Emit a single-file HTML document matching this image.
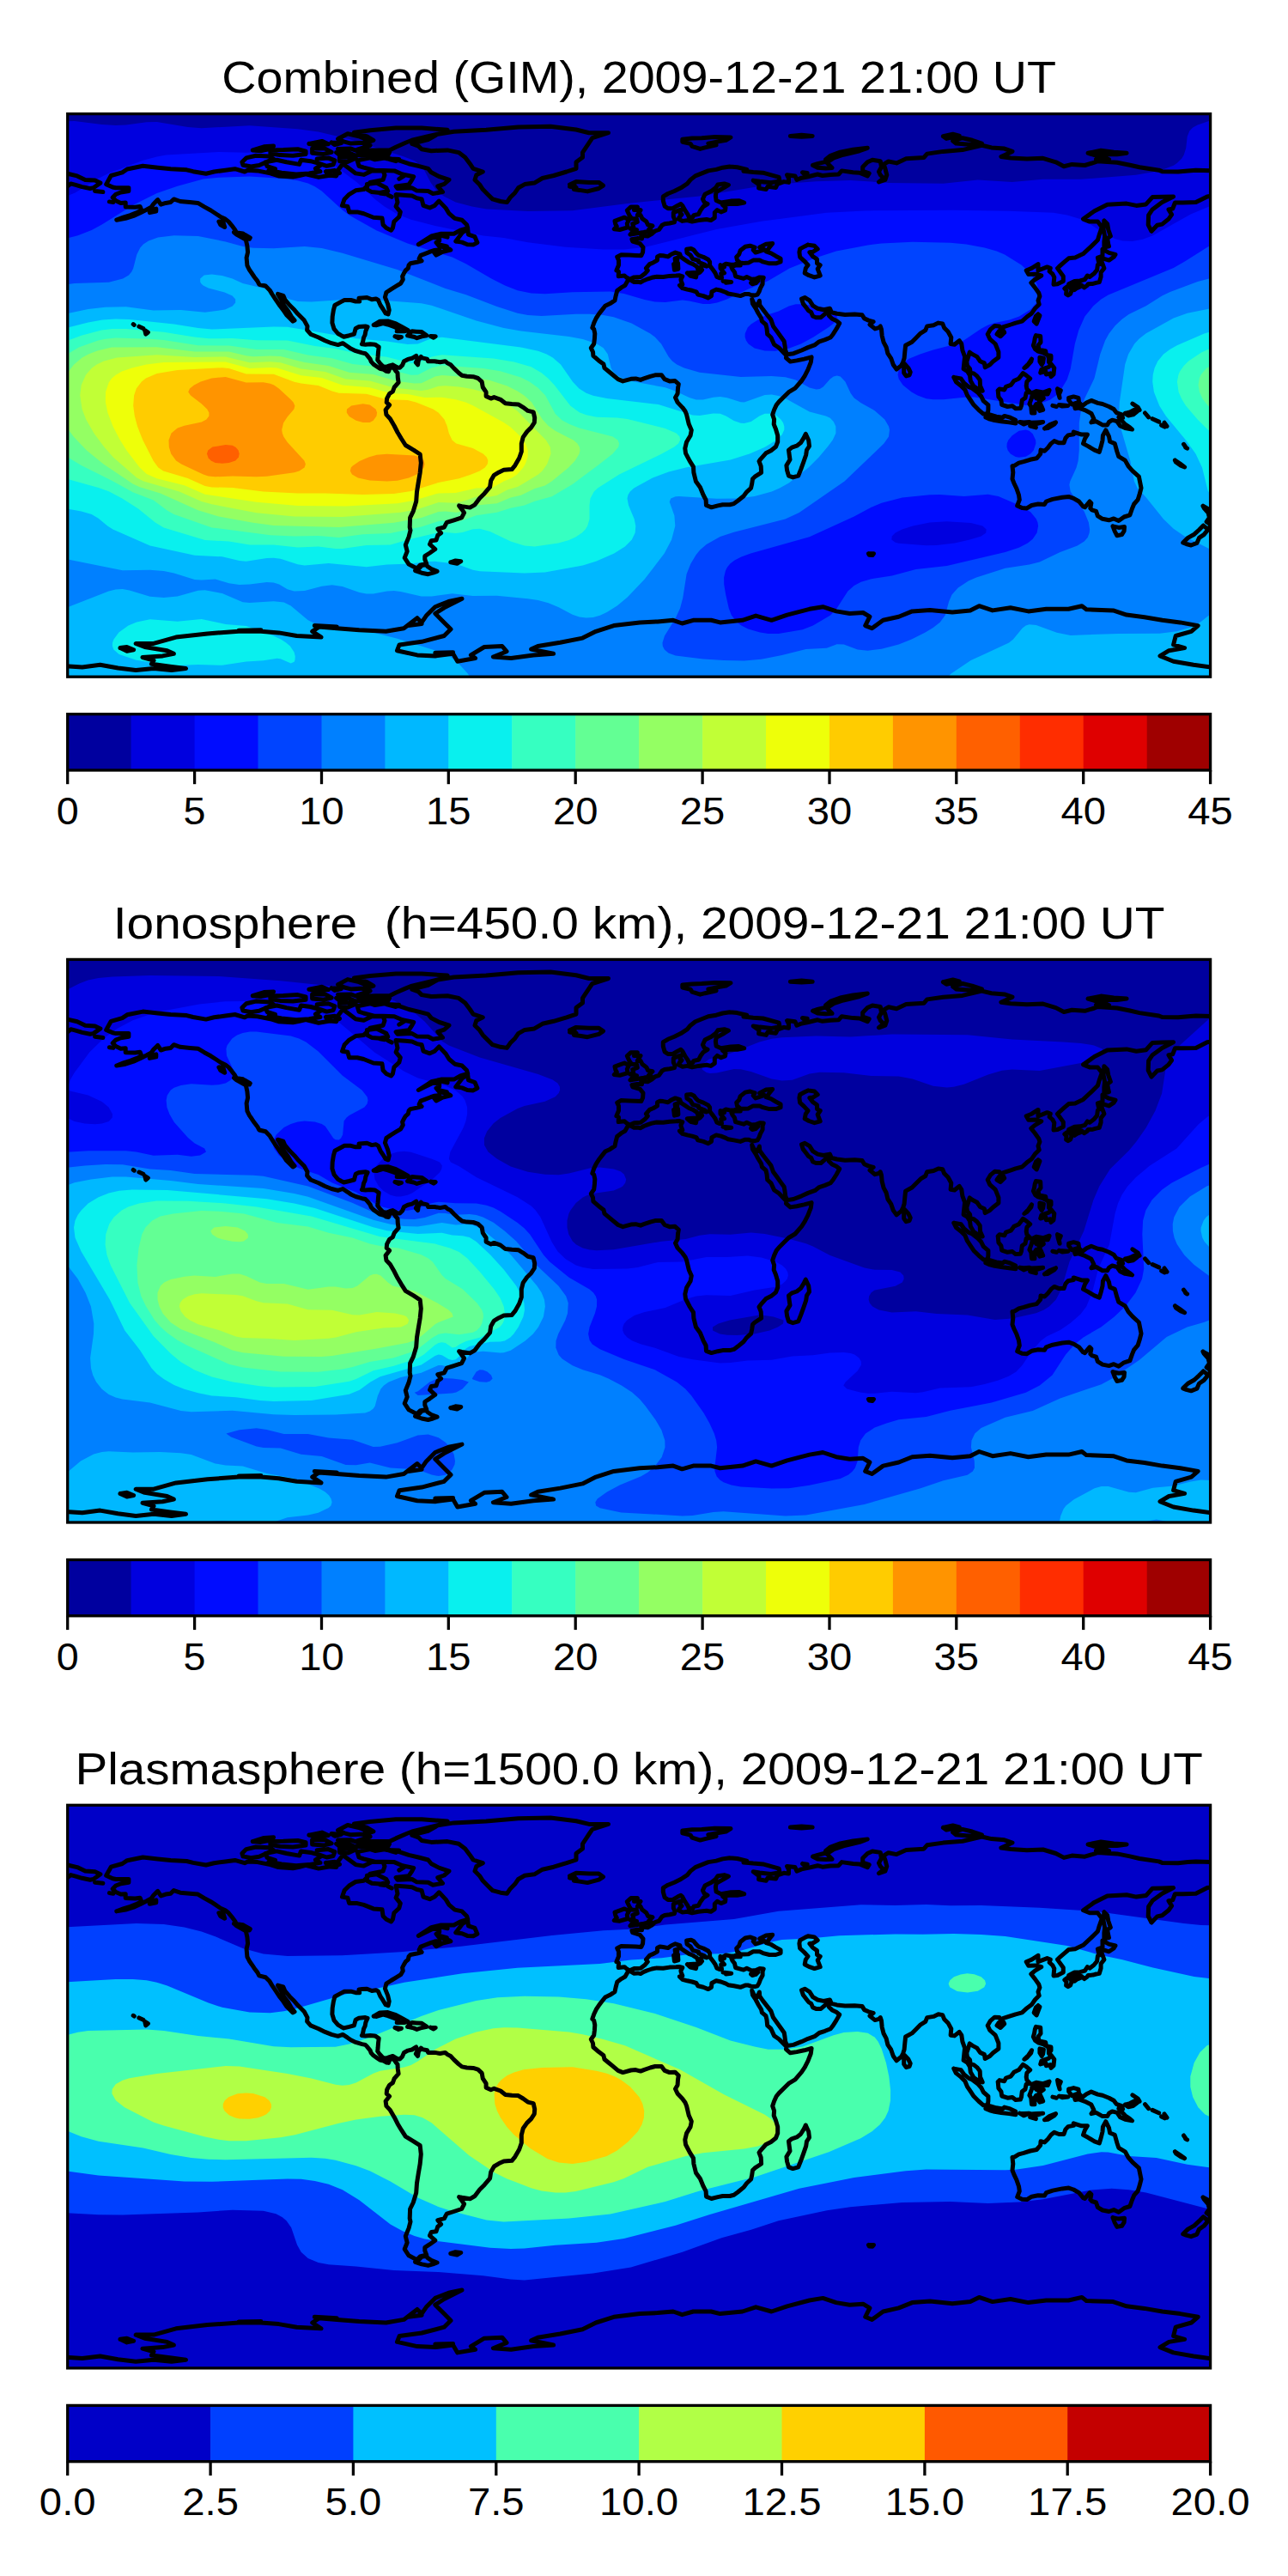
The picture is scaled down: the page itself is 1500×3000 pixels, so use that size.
<!DOCTYPE html>
<html lang="en"><head><meta charset="utf-8"><title>GIM / Ionosphere / Plasmasphere TEC maps</title>
<style>html,body{margin:0;padding:0;background:#fff}body{width:1500px;height:3000px;overflow:hidden;font-family:"Liberation Sans",sans-serif}svg{display:block}text{font-family:"Liberation Sans",sans-serif;fill:#000}</style></head><body>
<svg width="1500" height="3000" viewBox="0 0 1500 3000">
<rect width="1500" height="3000" fill="#fff"/>
<defs><clipPath id="mc"><rect x="0" y="0" width="1330.9" height="655.6"/></clipPath>
<path id="coast" d="M45 82L50.6 71.9L63.7 68.2L69.4 64.4L87.7 60.7L105 62.6L120 64.1L138.7 65.2L146.2 67.1L161.2 69.7L170.6 67.4L183.7 65.6L194.9 64.1L206.2 67.4L209.9 65.6L221.2 66.3L236.2 69.3L245.6 72.3L262.4 73.4L269.9 71.9L277.4 70.1L292.4 73.8L305.5 71.6L313 72.3L314.9 65.6L320.5 58.1L328 63.7L335.5 69.3L344.9 70.8L354.3 66.3L367.4 66.3L369.3 71.2L367.4 76.8L352.4 79.8L348.7 84.3L344.9 88L335.5 89.2L328 93.7L322.4 99.3L319.8 106.8L326.2 107.9L328 114.3L337.4 114.3L344.9 116.1L356.2 120.6L366.3 121.4L367.4 129.2L371.2 133L376.8 135.6L378.7 133L380.2 125.5L386.1 119.9L387.6 114.3L382.4 107.9L384.3 103L382.4 94L393.6 94.8L401.1 95.5L406.8 98.2L412.4 99.3L414.3 106.8L421.8 109.4L427.4 106.8L432.6 101.5L440.5 109.8L444.3 116.1L451 121.8L459.3 123.6L464.9 129.2L466 133L457.4 135.6L449.9 139.7L434.9 139.7L423.6 142.4L418 146.1L408.6 152.1L416.1 148.4L425.5 143.9L433 144.6L433 148L429.3 149.9L432.3 153.6L438.6 155.5L444.3 157.3L446.1 158.5L436.8 160.7L429.3 164.5L426.6 161.1L433 158.1L427.4 158.8L422.9 160.3L416.1 163L411.3 164.8L409.4 168.6L412.4 171.2L406.8 172.7L399.3 174.2L397.4 176.1L396.6 179.8L393.6 182.4L391.4 186.2L389.9 189.2L390.6 192.9L388 197.4L382.4 200.8L376.8 204.2L371.2 207.9L369.7 213.5L373 221.8L374.5 228.5L373.4 233.4L370.4 232.3L367.4 227.4L364.4 222.9L361.8 216.9L359.2 215.4L354.3 216.2L348.7 213.9L343 214.3L339.3 214.7L340 218.4L335.5 218.4L329.9 216.9L322.4 216.9L318.7 218.8L311.2 222.9L309.7 228.5L308.5 236L308.2 243.5L310.4 250.6L314.9 255.9L318.7 258.1L321.7 259.6L328 258.1L333.7 256.6L335.5 249.9L339.3 248L346.8 247.3L349.4 248L347.2 252.9L346.4 257.4L344.9 260.4L343.8 266L342.7 268.2L346.8 268.6L352.4 268.2L358 268.6L362.5 271.6L361.8 277.2L361.4 282.8L361 286.6L363.7 290.3L367.4 294.1L371.2 294.8L374.9 293.3L378.7 292.2L383.1 294.8L385 295.6L386.9 295.6L389.9 292.6L391.8 288.1L396.3 285.8L401.1 284.7L406 281.7L407.5 285.8L405.6 289.6L407.9 292.2L408.6 287.3L411.6 282.8L413.1 284.3L418.8 285.5L419.9 288.1L427.4 288.1L433.8 289.2L439.8 288.1L442.4 290.3L446.1 292.2L449.9 296.3L455.5 301.6L459.3 304.6L464.9 305.7L472.4 306.1L478 307.9L482.5 312.1L483.6 318.4L487.4 324.1L487.4 328.9L493 331.5L496.7 330L504.2 332.7L509.9 337.2L517.4 337.9L524.9 338.3L530.5 341.7L536.1 345.8L542.5 347.3L544 354L543.6 359.6L539.9 365.3L535 370.1L530.5 376.5L528.6 384L528.6 393.4L526 400.9L521.1 409.5L517.4 414L508 414.7L502.4 417.3L496.7 420.7L493 427.1L491.9 434.6L485.5 442.1L479.9 447.7L474.3 455.2L468.6 458.5L459.3 457L455.9 456.3L459.3 460.8L461.9 464.5L458.9 470.2L449.9 473.2L441.6 475.8L438.6 481.4L431.1 483.3L434.9 488.1L431.1 490.8L429.3 496.4L423.6 497.1L421.8 501.3L428.1 506.9L421.8 511.4L416.1 515.1L416.1 518.9L418 523.7L410.5 525.6L406.8 529.4L397.4 524.5L392.5 517L395.5 509.5L393.6 502L397.4 492.6L399.3 485.1L398.5 481.4L398.9 470.2L402.6 462.7L406 451.4L406.8 440.2L408.6 428.9L410.5 417.7L411.6 406.5L410.5 396.4L403 391.5L393.6 385.9L388.8 378.4L384.3 370.9L380.5 363.4L375.7 355.1L371.2 350.3L370.4 344.7L374.9 339L371.5 336L371.9 331.5L374.9 325.9L378.7 323.3L380.5 318.4L385.4 312.8L384.6 307.2L384.3 301.6L382.4 299.7L380.5 296.7L376.8 294.5L374.9 297.1L373.8 300.1L371.2 299.7L368.2 297.8L363.7 296.7L359.9 294.1L356.2 291.5L353.5 288.5L352.4 285.5L348.7 281L346.8 279.1L343 278.3L335.5 276.1L329.9 273.5L326.2 270.9L320.5 267.1L314.9 269L307.4 267.1L299.9 264.1L292.4 260.4L283.1 256.6L278.9 251.8L279.3 247.3L275.6 240.5L268.1 233L264.3 228.5L258.7 222.9L253.1 216.2L251.2 211.7L244.8 209.8L249.3 217.3L251.9 222.9L256.8 229.3L260.6 236L264.3 240.5L262.4 241.6L258.7 237.9L254.9 234.1L251.2 228.5L247.4 223.7L245.6 221L241.8 215.4L238.1 209.8L235.4 205.3L230.6 200.4L223.1 198.6L221.2 194.8L217.4 189.9L214.4 185.4L211.8 181.7L209.2 176.5L208.4 167.5L209.9 161.1L209.2 153.6L207.7 146.9L212.6 144.2L206.2 140.5L196.8 138.6L194.9 134.9L191.2 130L187.5 125.5L183.7 122.5L178.1 119.9L172.5 116.1L166.8 112.4L159.3 108.3L151.8 103.8L142.5 103L131.2 101.9L123.7 99.3L120 103L114.3 103.8L108.7 105.6L105 100L100.1 104.9L97.5 108.6L91.9 111.6L84.4 115.4L76.9 118.8L67.5 121.8L57 123.6L65.6 120.3L73.1 118L80.6 115L86.2 112.4L84.4 107.9L78.7 108.6L67.5 108.3L67.5 103.4L61.9 103.8L56.2 101.1L52.5 97.4L56.2 93.7L61.9 91.4L71.2 89.9L71.2 86.2L65.6 86.2L56.2 86.2L52.5 85.4L45 82M418 524.9L412.4 526L408.6 530.1L404.9 532L412.4 534.6L419.9 536.1L425.5 534.6L430.4 532.7L423.6 530.1L419.1 527.1L418 524.9M446.1 522.2L451.8 520.4L458.1 521.1L453.6 523.7L446.1 522.2M401.1 34.8L419.9 30L431.1 23.6L449.9 20.6L487.4 18.7L524.9 15.4L562.4 14.6L592.3 18.4L607.3 22.1L629.8 22.1L611.1 28.1L607.3 33.7L603.6 39.3L599.8 45L599.8 50.6L592.3 56.2L592.3 63.7L581.1 67.4L566.1 71.9L553 74.9L543.6 80.5L532.4 82L524.9 86.2L521.1 91.8L515.5 97.4L511.7 103L504.2 101.9L494.9 99.3L489.2 93.7L483.6 88L479.9 82.4L474.3 76.8L476.1 71.2L483.6 67.4L472.4 63.7L468.6 58.1L463 50.6L455.5 45L442.4 42.3L423.6 43.1L412.4 41.2L408.6 37.5L401.1 34.8M584.8 82.4L592.3 79L607.3 79.8L618.6 79.8L623.8 83.5L618.6 86.9L605.5 90.3L596.1 88.8L589.7 88L592.3 85.8L584.8 84.7L590.5 83.2L584.8 82.4M373 51.7L386.1 54.3L397.4 58.1L408.6 60.7L419.9 63.7L423.6 68.2L433 73.1L444.3 76.8L438.6 81.7L431.1 84.3L436.8 91L425.5 92.9L419.9 89.9L406.8 89.5L401.1 86.2L384.3 86.9L382.4 84.3L397.4 82.4L401.1 76.8L403 73.1L389.9 70.4L380.5 66.3L367.4 65.9L358 65.9L344.9 62.6L339.3 60.7L337.4 54.3L352.4 51.3L358 53.2L367.4 51.7L373 51.7M234.3 65.9L249.3 68.6L266.2 70.4L281.2 69.3L294.3 67.1L288.7 63.7L296.2 58.8L283.1 55.1L271.8 53.6L269.9 58.8L254.9 56.2L243.7 53.6L230.6 56.2L232.4 61.1L241.8 64.1L234.3 65.9M204.3 59.6L213.7 61.4L223.1 59.9L232.4 55.8L239.9 52.4L234.3 49.5L219.3 48.7L208.1 51.3L203.2 56.2L204.3 59.6M337.4 41.6L352.4 42.3L374.9 42.3L382.4 38.6L393.6 33.7L401.1 30.7L419.9 26.2L434.9 22.5L442.4 18.7L412.4 16.5L382.4 16.5L352.4 19.1L333.7 21.7L348.7 26.2L356.2 30.7L344.9 34.5L352.4 36.7L337.4 41.6M314.9 40.8L329.9 40.5L341.2 44.6L356.2 44.2L374.9 45L373 48.3L356.2 48.7L333.7 48L326.2 44.6L314.9 40.8M314.9 29.2L326.2 23.2L339.3 26.2L348.7 30L344.9 33.7L329.9 34.5L322.4 32.6L314.9 29.2M236.2 42.3L251.2 42L268.1 41.2L277.4 43.5L277.4 46.8L262.4 48.7L247.4 48L236.2 46.1L236.2 42.3M290.5 52.4L303.7 51.3L311.2 54.3L309.3 59.2L301.8 60.7L290.5 56.9L290.5 52.4M316.8 50.6L326.2 50.2L335.5 51.7L326.2 55.8L316.8 55.1L316.8 50.6M284.9 40.5L299.9 40.5L307.4 44.6L298 46.8L284.9 45.7L284.9 40.5M348.7 82L359.9 80.5L371.2 86.2L373 89.9L363.7 91.8L354.3 91L348.7 88L348.7 82M300.7 67.1L311.2 65.9L316.8 68.9L309.3 71.6L302.5 69.7L300.7 67.1M452.1 148.4L460 137.9L466 134.5L466.8 140.5L474.3 143.1L477.2 149.9L472.4 152.5L465.6 152.1L459.3 149.5L452.1 148.4M193.8 137.9L204.3 139.4L211.8 145.7L206.2 145.7L196.8 140.5L193.8 137.9M176.2 125.5L181.1 125.5L183 131.9L178.1 129.2L176.2 125.5M95.6 112.4L103.1 110.5L103.1 113.5L95.6 115L95.6 112.4M356.5 245.8L363.7 241.6L373 241.3L382.4 244.3L389.9 248.4L396.6 252.1L391.8 253.2L383.5 253.2L385.4 250.6L380.5 248L373 245.4L367.4 243.9L359.9 246.1L356.5 245.8M395.9 258.1L401.1 253.2L406 253.6L412.4 254L418.4 258.1L412.4 259.2L406.8 261.1L403 259.6L395.9 258.1M381.3 259.2L388.8 260L385.4 261.1L381.3 259.2M422.9 258.9L428.5 259.2L426.3 260.7L422.9 258.9M90 252.1L93.7 254.4L91.1 256.6L90 252.1M83.2 247.6L88.1 249.9M76.5 245L77.6 245.8M31.9 89.9L41.2 91M48.7 102.3L53.2 103M215.6 42.3L228.7 38.2L239.9 37.5L236.2 40.8L224.9 43.1L215.6 42.3M281.2 34.8L296.2 31.8L303.7 35.2L288.7 36.7L281.2 34.8M307.4 33.3L318.7 34.1L311.2 36L307.4 33.3M313 45L324.3 46.1L316.8 48L313 45M371.2 52.1L386.1 52.8L382.4 55.1L371.2 52.1M373 94.4L377.5 96.7M363.7 92.5L369.3 93.3M386.1 75.7L391.8 72.3M433 141.2L442.4 143.5M434.1 152.5L441.6 154.3M841.7 25.8L854.8 24.7L867.5 25.8L854.8 26.6L841.7 25.8M855.9 68.2L861.5 68.9L858.5 70.4L855.9 68.2M771.2 61.4L779.8 62.2L791 64.8L787.3 66.7L798.5 67.8L809.8 68.6L828.5 73.8L829.3 78.3L819.2 80.2L806 78.7L798.5 77.5L805.3 82.4L804.9 86.5L813.5 88L815.4 84.7L824.8 85.8L826.7 81.7L834.2 79L839.8 79.8L839.8 74.9L837.9 71.2L847.3 72.3L849.2 76.8L854.8 74.6L862.3 73.1L873.5 70.4L879.1 71.9L888.5 70.8L897.9 70.4L901.6 66.3L914.8 68.2L922.3 68.6L931.6 72.3L933.5 69.3L926 66.7L926 61.8L931.6 56.2L937.3 53.6L946.6 55.1L947.8 61.8L944.8 67.4L946.6 71.2L950.4 74.9L944.8 79.4L952.2 76.8L954.1 71.2L952.2 63.7L950.4 58.8L956 55.4L965.4 57.3L976.6 52.1L997.2 50.9L1001 46.5L1019.7 43.8L1042.2 42L1064.7 36.7L1076 39.3L1091 40.5L1100.3 43.8L1087.2 49.8L1098.5 51.3L1117.2 52.4L1136 51.7L1150.9 56.2L1160.3 61.1L1169.7 58.8L1184.7 59.9L1195.9 56.6L1199.7 55.1L1222.2 56.6L1237.2 59.6L1248.4 62.2L1270.9 65.6L1274.7 67.1L1293.4 67.4L1304.7 66.3L1314 65.6L1334.6 66.3L1349.6 69.7L1349.6 84.3L1344 86.2L1340.3 85.4L1345.9 91.8L1347 93.7L1327.2 96.3L1314 103L1299 103.4L1289.7 103.4L1287 110.5L1282.2 111.3L1285.9 117.3L1282.2 122.5L1274.7 128.5L1269 129.6L1262.3 136.7L1258.5 129.2L1258.9 118L1263.4 111.3L1274.7 103L1287.8 96.3L1274.7 96.7L1263.4 97L1255.9 105.3L1244.7 106.8L1233.4 104.5L1210.9 105.6L1195.9 113.1L1182.8 122.5L1190.3 125.5L1199.7 125.5L1204.6 131.9L1201.6 140.5L1199.7 146.9L1192.2 154.3L1182.8 163L1173.4 167.5L1165.9 168.2L1161.1 172.3L1154.7 177.9L1152.8 179.8L1159.6 189.2L1159.6 194.8L1152.8 198.2L1148.3 198.6L1149.1 190.3L1147.2 186.6L1143.4 183.2L1144.6 179.8L1140.8 178.3L1130.3 182.4L1130.3 175L1122.8 179.8L1116.5 182.4L1119.1 186.9L1127.7 186.6L1134.1 188.4L1126.6 192.9L1122.1 196.7L1126.6 202.3L1131.1 208.7L1132.2 212.4L1130.3 217.3L1131.5 221.8L1126.6 226.7L1122.8 232.3L1117.2 236.4L1111.6 241.6L1104.1 243.5L1098.5 245.4L1089.1 248.4L1087.2 251.8L1085.3 247.3L1079.7 246.9L1074.8 251L1071.5 256.6L1074.1 262.2L1080.5 267.9L1084.2 277.2L1084.2 283.6L1077.8 288.5L1074.1 292.2L1068.5 295.2L1067.7 290.3L1062.8 288.1L1059.1 282.8L1053.5 279.8L1050.5 277.6L1049 282.8L1047.1 288.5L1047.8 293.3L1050.8 296.7L1051.6 301.6L1055.3 302.3L1059.1 305.3L1062.5 309.8L1062.8 316.6L1065.5 322.6L1062.1 321.8L1055.3 317.3L1051.6 310.9L1050.8 304.6L1047.8 299.7L1043.4 297.1L1044.1 290.3L1044.9 282.8L1042.2 275.4L1041.1 267.9L1038.5 264.1L1032.9 268.6L1028.4 267.9L1029.1 260.4L1025.4 253.6L1020.9 249.1L1019 244.3L1014.1 243.5L1008.5 246.1L1001 247.3L999.1 252.1L993.5 255.5L987.9 261.1L983.4 265.6L975.9 269.7L975.1 277.2L974.4 284.7L972.9 289.2L971 293L967.2 296L965.4 297.5L961.6 292.2L959 284.7L955.2 279.1L953.4 271.6L950.4 266L948.5 258.5L947.8 251L946.6 247.3L944.8 249.1L940.3 250.3L934.3 245.4L938.4 242L932.8 240.5L927.9 238.3L925.3 234.1L916.6 233.4L905.4 233.8L896 232.6L889.6 231.1L887.8 226.7L880.3 228.1L873.5 226.7L867.9 223.3L864.1 217.3L858.5 213.9L854.8 215.4L856.6 221L860.4 225.9L863 229.3L866 231.1L867.9 235.6L871.6 237.1L877.3 237.1L882.9 232.3L885.9 229.6L886.6 234.9L890.4 238.6L895.3 240.9L899 243.9L895.3 250.6L891.5 256.6L888.5 260.4L882.1 263L875.4 265.2L870.5 269L862.3 272L854.8 275.4L845.4 279.1L837.9 280.2L836 275.4L835.3 269.7L834.5 264.9L830.4 259.2L825.9 252.9L821.8 247.3L819.2 239.8L814.7 234.1L809.8 227.8L806 222.5L805.7 217.7L803.4 223.3L799.3 220.7L797 215.8L797.8 221L801.5 226.7L804.2 231.9L807.9 237.9L808.7 241.6L813.2 245.4L814.3 249.9L815 256.6L819.2 260.4L822.9 268.6L828.5 272.4L834.2 278.3L837.2 281.3L836.8 284.3L841.7 288.5L849.2 287.3L857.8 285.5L866.4 283.2L865.6 289.2L862.3 297.8L858.5 305.3L854.8 310.9L847.3 319.6L839.8 324.1L834.2 329.7L828.5 335.3L825.5 339L822.9 344.7L821 350.3L822.9 355.9L822.5 361.5L824.8 367.1L827 374.6L827 382.1L824.8 387.7L819.2 392.2L813.2 395.2L807.2 402L805.3 404.6L807.5 410.2L807.9 417.7L800.4 422.6L797.8 425.2L797 430.8L795.9 435.7L791 440.2L787.3 445.1L780.5 450.7L776 454L771.2 455.2L762.9 455.2L757.3 456.3L749.8 458.2L743.8 455.9L743.4 449.6L740.4 443.9L736.7 434.9L731.8 428.2L729.2 417.7L728.8 411L724.7 404.6L719.8 395.2L719.1 389.6L720.9 382.1L725.4 374.6L726.6 368.3L723.6 361.5L720.9 350.3L719.4 346.5L716.1 342L710.4 336L707.8 330.4L710.4 325.9L710.8 319.6L711.6 314.7L707.4 310.9L701.1 311.3L695.4 309.1L691.7 304.2L684.2 304.2L678.6 305.7L671.1 308.3L667.3 309.8L661.7 308.3L656.1 308.7L646.7 311.3L641.1 309.1L634.3 303.4L629.8 299.7L625.3 296L624.2 291.5L618.6 287.3L612.2 281.7L611.8 277.2L609.6 272.7L613 267.9L613.7 262.2L614.1 255.9L613 250.6L611.1 249.1L613 243.5L615.6 237.9L619.3 232.3L622.3 228.5L626.1 223.7L631.7 221L637.3 217.3L638.5 211.7L640 206L644.8 202.3L649.3 199.7L652.7 193.7L655 193.3L659.8 195.9L664 195.6L667.3 196.3L671.1 194.1L675.9 192.2L680.4 190.7L686.1 189.6L693.6 189.9L701.1 188.8L708.6 188.4L712.3 188.1L716.1 189.2L714.2 192.9L714.6 194.8L716.1 198.6L712.7 199.7L716.1 203L721.7 204.5L727.3 205.7L732.2 207.2L734.1 210.5L740.4 212L746.1 214.3L749.8 212L750.2 207.2L755.4 204.5L761 205.7L766.7 207.9L769.3 209.4L776 210.5L783.5 212L789.2 209.8L792.9 209.8L795.9 210.9L800.4 211.3L803.4 210.5L805.3 207.2L806.8 203L809.4 198.2L809.4 193.7L810.5 190.7L806 190.3L801.5 192.2L796.7 192.6L791 189.9L787.3 191.8L781.7 190.3L777.9 189.2L776.8 184.3L774.2 180.9L773 177.9L777.9 176.5L783.5 176.5L783.5 173.8L779.8 174.2L776 175.7L772.3 175.7L766.7 174.6L762.9 176.8L764.8 178.3L760.3 176.1L760.3 179.8L761.8 181.7L764.8 185.4L761 185.8L761.8 191.1L759.2 191.1L756.2 189.9L754.3 185.4L751.7 181.7L747.9 176.8L747.9 172.3L746.1 169.7L740.4 166.7L734.8 164.8L731.8 161.8L729.2 158.5L726.2 157L720.9 157.7L721.3 161.8L725.4 164.5L728.1 169L734.8 170.8L734.8 172.7L742.3 175.7L744.2 177.6L738.6 176.1L737.1 179.4L738.9 181.7L736.7 184.3L733.7 185.8L734.8 182.8L732.9 177.9L728.4 175L723.6 173.1L717.9 169.3L714.2 166.7L713.1 163.3L707.8 161.5L702.9 163.7L699.2 166.3L693.6 165.2L689.8 164.8L686.8 166.3L686.8 170.5L682.3 173.1L677.8 175L673.7 179.8L675.6 182.4L672.2 186.2L667.3 189.9L659.8 190.3L654.6 192.6L651.2 190.7L648.6 188.4L641.5 189.2L641.8 183.6L639.2 182.4L641.8 176.1L641.8 170.5L640 166.7L644.8 164.1L654.2 164.5L661.7 164.8L668.1 165.2L669.9 161.1L670.3 155.5L666.6 151L658 148.4L657.2 146.1L663.6 145L668.8 145.4L668.1 141.6L675.6 142.4L680.4 139.7L684.2 136.4L688.7 134.9L692.4 129.6L695.4 128.1L701.1 127.4L706.7 126.2L707.4 123.6L705.6 119.9L705.6 115L711.6 112.4L714.6 111.6L713.4 116.1L715.3 117.3L712.3 120.6L711.6 122.5L716.1 124.8L721.7 124L727.3 125.5L734.8 124L744.2 122.9L749.1 124L753.6 121L753.6 115L756.6 112L761 114.3L765.9 112.4L766.3 109L762.9 106L770.4 104.9L779.8 104.9L788 103.4L781.7 101.1L772.3 101.5L761 103.4L755.4 100.8L754.7 95.5L755.4 91L764.8 85.8L769.7 82.8L764.8 81.3L757.3 82.4L754.7 86.2L749.8 89.9L742.3 93.7L739.7 99.3L741.6 103L745.3 104.9L740.4 107.9L737.1 112.4L734.8 116.9L729.2 118L728.1 120.3L723.6 120.3L722.4 117.3L719.1 112.4L716.1 106.8L714.2 104.9L710.4 106.8L704.8 110.1L699.2 110.1L695.4 107.5L693.6 101.1L693.6 96.3L699.2 92.9L706.7 89.9L714.2 86.2L721.7 81.3L725.4 76.8L731.1 72.3L738.6 69.3L746.1 66.3L755.4 64.8L762.9 62.6L771.2 61.4M0 69.7L11.2 72.3L20.6 76.8L31.9 77.5L38.2 80.5L30 86.2L26.2 86.9L16.9 85L9.4 82.8L3.7 81.3L0 84.3M783.5 173.5L779.8 170.5L779 166.7L782 163.7L783.5 159.2L789.2 154.7L794.8 153.6L800.4 155.5L798.5 158.5L801.2 161.5L806 160L811.7 158.1L806 155.5L813.5 151.7L821 151L817.3 155.5L815.4 158.5L813.5 160.3L819.2 162.2L824.8 165.6L830.4 168.6L830.4 172.3L824.8 174.2L817.3 174.2L809.8 172.3L806 170.5L798.5 170.5L792.9 173.5L787.3 173.8L783.5 173.5M862.3 152.5L869.8 153.6L873.5 157.3L867.9 160.7L864.1 161.1L867.9 166L872.8 169.3L872.8 174.2L876.5 176.1L873.5 180.6L876.5 188.4L869.8 190.3L863.4 188.1L858.5 185.4L859.6 179.8L862.3 176.1L857.8 171.2L852.9 166.7L852.2 161.1L852.9 157.3L858.5 154.3L862.3 152.5M655.3 140.5L661.7 139.4L671.1 137.9L679.7 136L676.7 134.9L681.2 130.4L675.9 129.2L674.1 125.5L669.2 121.8L667.3 118L663.6 118L667.3 112L659.8 112L663.6 108.3L656.1 108.3L651.6 112.4L654.2 118L656.8 121.8L662.8 122.1L663.6 125.9L658 128.1L659.1 131.9L655.3 133.7L662.8 135.2L658.7 136.4L655.3 140.5M652.3 132.2L651.6 127.7L653.8 123.3L648.6 120.6L643.3 122.5L637.3 124.8L638.1 128.5L639.6 131.1L636.6 134.1L643 134.9L652.3 132.2M716.1 29.6L727.3 28.5L738.6 28.1L753.6 27L772.3 27.3L766.7 30.7L753.6 33L746.1 34.5L755.4 36.3L742.3 39.3L736.7 40.8L727.3 37.8L725.4 34.8L716.1 32.6L716.1 29.6M867.9 59.9L873.5 62.6L882.9 63.3L890.4 62.9L884.8 57.3L882.9 53.2L888.5 48.7L899.8 44.6L914.8 41.6L931.6 39.7L922.3 43.1L903.5 47.6L892.3 51.3L886.6 55.1L881 56.2L873.5 58.1L867.9 59.9M1031 31.5L1042.2 28.1L1053.5 30.7L1064.7 34.5L1049.7 35.6L1034.7 34.5L1031 31.5M1019.7 26.2L1031 23.6L1038.5 25.5L1023.5 28.8L1019.7 26.2M1188.4 45.7L1203.4 42.7L1218.4 44.6L1233.4 45.7L1222.2 47.2L1207.2 47.2L1195.9 48L1188.4 45.7M1197.8 52.8L1209.1 51.3L1212.8 53.2L1203.4 54.7L1197.8 52.8M1344 61.1L1349.6 59.9M1207.2 124.4L1210.9 128.1L1212.1 134.9L1214.7 142.4L1210.9 145L1212.1 151.7L1212.8 154.3L1207.2 155.5L1207.2 148.7L1207.9 142.4L1206.4 134.9L1207.2 124.4M1205.3 157.7L1212.8 161.8L1220.3 163.7L1218.4 166.7L1212.8 170.5L1205.3 168.2L1200.8 172.3L1199.7 167.5L1205.3 165.6L1205.3 157.7M1204.6 172.7L1207.2 179.8L1203.4 184.7L1203.4 189.9L1201.6 195.9L1197.8 196.7L1194.1 197.8L1188.4 198.2L1187.7 199.7L1183.9 202.3L1180.9 199.3L1175.3 199.3L1170.8 200.8L1165.9 200.4L1165.9 198.2L1172.7 194.8L1179.1 194.4L1184.7 192.9L1187.7 188.4L1190.3 189.9L1195.2 186.2L1198.9 181.7L1199.7 175.7L1204.6 172.7M1165.9 200.8L1169.7 204.9L1167.8 209.8L1165.2 211.3L1162.9 209.8L1163.3 205.7L1161.1 203.4L1164.1 201.2L1165.9 200.8M1171.6 200.4L1179.1 199.3L1179.8 201.2L1175.3 203L1172.7 204.9L1171.6 200.4M1130.3 233.4L1132.2 234.9L1128.5 244.6L1125.5 241.6L1127.7 235.6L1130.3 233.4M1090.2 252.9L1091 254.7L1086.5 259.2L1082.3 256.6L1084.6 253.2L1090.2 252.9M1127.7 258.1L1133 258.9L1133.3 266L1130.3 269.7L1131.5 274.6L1139 276.1L1139.7 280.2L1136 278.3L1130.3 276.5L1127 274.2L1124.7 269.7L1125.8 266L1126.6 261.1L1127.7 258.1M1145.3 291.1L1149.1 296L1148.3 303.4L1145.3 306.1L1144.6 302.3L1139.7 303.4L1139 299.7L1133 301.6L1134.1 297.8L1139 296L1142.7 294.8L1145.3 291.1M1141.6 281L1145.3 281.7L1145.3 285.8L1142.7 289.2L1142.7 284.7L1141.6 281M1132.2 283.6L1136.7 284.7L1136 289.6L1134.5 292.2L1132.2 288.5L1132.2 283.6M1122.8 285.5L1119.1 291.1L1114.2 296L1117.2 294.1L1122.1 288.5L1122.8 285.5M1083.5 322.2L1085.3 320.3L1091 321.4L1092.8 317.7L1098.5 315.8L1102.2 310.9L1107.8 308.3L1112.7 302L1116.1 304.2L1121 308.3L1117.2 311.7L1116.5 316.6L1117.2 320.3L1121 324.1L1116.5 324.8L1115.3 330.8L1111.6 333.4L1110.8 339.8L1109.7 342.8L1104.1 343.2L1100.3 340.2L1094.7 340.9L1088 338.7L1087.2 333.4L1084.2 329.7L1083.5 322.2M1032.1 306.8L1040.4 308.3L1044.1 313.6L1049.7 318.1L1053.5 319.6L1060.2 324.8L1064 328.9L1066.6 334.2L1072.2 339L1072.2 344.7L1071.5 349.5L1066.6 349.5L1061 344.7L1055.3 339L1051.6 333.4L1047.8 327.8L1045.2 321.4L1040.4 316.6L1034.7 312.1L1032.1 306.8M1069.2 353.3L1074.1 350.3L1081.6 352.5L1089.1 353.6L1091 351.8L1097.7 353.6L1104.1 356.6L1104.1 360.4L1096.6 359.3L1087.2 358.1L1079.7 357L1074.1 355.5L1069.2 353.3M1124 324.8L1128.1 322.9L1136 324.4L1143.4 321.8L1141.6 326.3L1134.1 326.3L1125.5 327.8L1128.5 331.5L1136.7 331.2L1131.5 334.9L1134.1 340.2L1136 344.7L1132.2 345.8L1130.3 342.8L1128.1 337.9L1126.2 340.9L1126.2 348.4L1122.8 348.4L1122.1 340.9L1120.2 337.9L1122.8 330.8L1124 324.8M1152.8 320.3L1156.6 322.2L1154.7 326.7L1155.4 330.8L1153.6 324.8L1152.8 320.3M1137.8 366.4L1143.4 362.3L1150.9 359.3L1149.1 361.5L1141.6 366L1137.8 366.4M1121 359.6L1128.5 359.3L1136 358.9L1128.5 361.1L1121 359.6M1109 358.9L1113.5 359.3L1120.2 358.9L1113.5 361.5L1109 358.9M1121 363.4L1127.7 365.3M1154.7 339L1165.2 339.8L1158.4 340.5L1154.7 339M1147.2 339.8L1151.7 340.9M1165.9 330.8L1171.6 329.3L1177.2 330.8L1177.9 336L1181.7 340.2L1186.6 336.4L1192.2 333.8L1199.7 336.8L1205.3 337.9L1212.8 340.9L1218.4 343.9L1221.4 348L1227.8 350.3L1228.9 354L1224.1 353.3L1231.6 361.5L1237.2 365.3L1239.8 367.5L1231.6 366L1225.9 363.4L1222.2 358.1L1216.6 356.6L1212.8 358.9L1210.9 362.3L1205.3 362.3L1197.8 358.1L1192.2 359.3L1195.2 355.1L1192.2 348.8L1184.7 345L1177.2 342.4L1173.4 343.2L1172.7 340.2L1177.2 338.3L1175.3 336.4L1169.7 338.3L1165.9 333.4L1165.9 330.8M1231.6 348.8L1237.2 347.3L1244.7 343.5L1245.8 346.5L1240.9 350.3L1235.3 351.4L1231.6 348.8M1240.2 337.5L1246.5 341.7L1248.4 345M1254.8 348.4L1258.9 353.3M1263.4 355.1L1270.9 358.5M1273.9 362.6L1277.7 364.5M1277.3 359.6L1280.3 363.8M1299.8 384.7L1301.7 387.4M1302 388.5L1303.9 389.6M1289.7 403.5L1295.3 407.2L1300.9 411.3L1296.4 409.5L1290.8 405.7L1289.7 403.5M1339.5 393.4L1344 393L1344 396L1339.9 395.6L1339.5 393.4M974.7 291.1L979.2 296L981.5 300.8L980.4 304.2L976.6 305.3L974 301.6L974 296L974.7 291.1M859.6 372.8L863 380.2L863.8 387L860.8 391.5L860 397.1L857.4 404.6L854 414L851 421.5L844.7 423.3L839.8 421.5L837.9 415.1L837.2 409.5L841.3 402.7L840.5 397.1L839.8 391.5L843.5 388.5L849.2 386.6L853.7 383.2L857.4 377.3L859.6 372.8M721.7 185.4L732.9 184.7L731.8 190.3L725.4 188.8L721.7 185.4M705.9 175L710.8 173.8L711.2 180.6L706.7 181.7L705.9 175M707.4 168.6L710.4 167.5L709.7 172.3L707.8 172L707.4 168.6M763.3 194.8L773 195.9L766.7 196.7M795.9 196.7L804.2 194.4L801.5 197.1L797.4 198.2L795.9 196.7M932.8 512.1L938.8 512.1L937.3 514L933.5 513.6L932.8 512.1M1100.3 410.2L1103 409.5L1107.8 406.5L1113.5 405L1121 402.7L1128.5 401.2L1133 396L1133.3 391.5L1137.8 392.6L1141.6 388.9L1145.3 384L1149.1 381L1154.7 383.2L1160.3 383.2L1162.2 377.6L1165.2 374.3L1171.6 373.1L1171.6 370.5L1180.9 373.5L1187.7 373.5L1184.7 378.4L1182.8 384L1188.4 387L1195.9 391.5L1201.6 393.7L1203.4 387.7L1205.3 380.2L1205.7 374.6L1209.1 368.3L1212.8 375.8L1213.9 381.7L1219.6 384L1222.2 393.4L1224.1 399L1231.6 403.5L1235.3 410.2L1240.2 415.8L1247.7 422.6L1249.2 430.1L1250.3 435.7L1248.4 443.2L1246.5 449.2L1242 454.4L1239.8 459.7L1237.2 467.2L1230.4 469.4L1224.1 473.9L1218.4 471.3L1212.8 473.2L1205.3 471.7L1199.7 468.3L1197.8 462.7L1192.9 461.2L1191.1 459.3L1192.2 453.3L1190.3 451.4L1184.7 458.2L1182.8 457.4L1177.9 451.4L1171.6 447.7L1165.9 445.8L1158.4 446.6L1147.2 448.8L1139.7 451.4L1137.8 454.8L1130.3 454.4L1122.8 455.9L1117.2 459.3L1111.6 458.9L1106 456.3L1108.6 449.6L1107.8 443.9L1105.2 436.4L1102.2 430.1L1100.3 425.2L1101.1 417.7L1100.3 410.2M1217.3 480.3L1224.1 481.8L1230.8 481L1230.4 485.9L1227.8 490L1222.2 491.1L1219.6 486.3L1217.3 480.3M1322.3 456.7L1328.3 460L1332.8 465.3L1334.6 468.7L1342.1 468.7L1343.3 472L1338.4 476.2L1334.6 482.5L1330.9 483.6L1330.2 477.7L1326.4 475L1329.8 470.2L1328.3 464.5L1323.4 458.9L1322.3 456.7M1322.7 479.5L1328.3 484L1323.4 490L1317.8 493.8L1315.2 499.8L1308.4 502.4L1302.8 500.9L1299 499.4L1304.7 493.8L1312.2 489.6L1317.8 484.4L1322.7 479.5M-6.3 643.3L1.5 643.3L17.1 644.3L37.9 641.7L58.7 645.4L79.5 648L100.3 645.9L121.1 648L137.8 645.9L121.1 643.8L97.7 640.7L100.3 636.5L87.3 632.9L110.7 631.3L123.7 628.7L115.9 625.1L89.9 620.9L79.5 616.8L100.3 616.8L126.3 609.5L162.8 605.3L199.2 602.7L225.2 602.7L246 604.3L266.8 607.9L295.4 609.5L285 602.7L292.8 597.5L313.6 599.1L339.6 601.2L370.8 602.7L391.6 599.1L407.2 587.1L412.4 592.3L417.7 584.5L428.1 574.1L443.7 567.9L459.3 564.7L438.5 575.2L428.1 581.9L438.5 592.3L446.3 600.1L438.5 607.9L412.4 614.7L386.4 618.3L383.8 625.1L407.2 630.3L428.1 631.3L448.9 628.7L454.1 637.6L474.9 633.9L469.7 630.3L485.3 620.9L506.1 619.9L511.3 626.1L495.7 632.4L516.5 633.9L542.5 630.3L565.9 628.7L539.9 623.5L547.7 619.9L573.7 615.7L599.7 610.5L615.3 602.7L636.1 596L666.3 592.3M666.3 592.3L687.1 591.3L705.3 589.7L715.7 593.4L728.7 589.7L749.5 589.7L759.9 592.3L785.9 589.7L801.5 584.5L819.8 589.7L838 583.5L864 576.7L879.6 574.1L895.2 579.3L910.8 581.9L926.4 580.9L934.2 585.6L929 596L936.8 599.1L949.8 589.7L968 585.6L983.6 579.3L1004.4 577.8L1030.4 580.4L1051.2 578.3L1061.6 573.1L1077.2 578.3L1098.1 575.2L1118.9 579.3L1139.7 576.7L1165.7 576.7L1181.3 573.1L1186.5 577.2L1217.7 578.3L1233.3 583.5L1254.1 586.1L1274.9 589.7L1295.7 592.3L1316.5 596L1308.7 602.7L1290.5 607.9L1287.9 618.3L1300.9 622L1282.7 625.1L1272.3 631.3L1287.9 637.6L1311.3 641.7L1334.7 644.9M61.3 622L69.1 620.9L76.9 624.1L69.1 625.6L61.3 622M396.8 596L412.4 593.9M199.2 601.7L225.2 601.2M287.6 596L313.6 597.5M428.1 627.7L448.9 627.2" fill="none" stroke="#000" stroke-width="5" stroke-linejoin="round" stroke-linecap="round"/></defs>
<text x="744.1" y="108" font-size="52.5" text-anchor="middle" textLength="971.7" lengthAdjust="spacingAndGlyphs" xml:space="preserve">Combined (GIM), 2009-12-21 21:00 UT</text>
<g transform="translate(78.7 132.6)"><g clip-path="url(#mc)">
<rect x="-8" y="-8" width="1346.9" height="671.6" fill="#00009f"/>
<path d="M1316 12.8L1336 6L1336 660L-8 660L-8 9L8 8.3L40 12.5L56 13.5L68 12.8L92 9.7L104 9.4L140 15.4L156 16.6L212 13.6L268 17.7L292 21L328 29.5L392 50L404 54.7L411.3 60L414.5 64L422.8 80L428.6 88L438 96L452 102.9L470.9 108L488 110.9L536 113.4L588 112.7L652 104.3L736 95.8L816 82.7L872 78.6L912 77.5L956 80.3L1020 81.1L1060 76.8L1100 79.3L1136 76.2L1180 76.2L1244 71.1L1262.9 68L1276 64.7L1288 60.1L1292 57.5L1297.6 52L1300 48L1302.5 40L1304 26.4L1306.6 20L1310.5 16Z" fill="#0000df" fill-rule="evenodd"/>
<path d="M114.7 48L176 44.5L208 45.1L236 44.1L272 46L288 48.1L298.8 52L308 57.8L337.2 80L358.6 100L369 108L384 116.8L400 123.1L428 130.4L484 141.9L508 144.5L536 149.7L580 155.1L624 157.8L648 158L672 155.4L756 134.3L808 125.2L884 115.1L928 112.8L1032 112.2L1096 113.1L1148 115.1L1164 117.9L1180 122.7L1190.3 128L1208 139.9L1220 145.7L1228.7 148L1240 148.5L1252 146.2L1264 141.7L1308 116.8L1336 105.3L1336 660L-8 660L-8 96.9L0 95.4L8.8 92L36 75.1L48 69.1L88 54.2L104 49.8ZM1004 475.9L984.4 480L971.9 484L964 488L960 492L959.6 496L964 499.1L968 500.2L1000 502.7L1012 502.4L1033.3 500L1050.6 496L1064 492L1069.6 488L1070 484L1065.6 480L1052 476.3L1024 474.6Z" fill="#000cff" fill-rule="evenodd"/>
<path d="M158 76L176 74.1L212 72.8L256 75.7L268 77.7L280 81L288 84.6L296 89.8L320 111.8L328 118L360 136L396 151L448 167L464 174.7L493.6 192L509.4 200L524 205.6L540 208.9L556 209.7L588 207.6L632 207L648 209.4L672 216.5L684 219L696 219.5L716 216.9L724 217.8L740 221.5L748 221.5L756.4 220L767.9 216L792 204.3L816 194.4L840.8 180L870.6 168L895.2 160L932 152.8L948 151L984 149.2L1028 150.1L1046.6 152L1068 155.9L1082 160L1091.4 164L1110.7 176L1119.4 184L1125.5 192L1129.4 200L1131.2 208L1130.3 216L1128.5 220L1121.4 228L1108.3 236L1096.9 240L1080 243.4L1072 245.9L1064 250.2L1044 263.7L1036 267.7L1008 275L992.8 280L980 285.2L972 290.9L968.3 296L966.9 304L968 308.6L972.9 316L982.8 324L989.9 328L1000 331.6L1008 332.7L1020 332.7L1044 330.2L1056 329.9L1116 339.5L1132 337.4L1144 333.1L1152 327.4L1156 323L1164 309.5L1168 297.2L1173.1 268L1177.6 252L1184.7 236L1194.4 224L1203.7 216L1212 210.8L1288 179.3L1301.1 172L1328 154.8L1336 151.2L1336 660L-8 660L-8 146.9L12 141.7L28 135.5L40 129L76 106.3L104 92.5L128 84.1ZM840 223.9L828 229.9L812 234.8L796 244.8L792 248.8L789 256L788.9 260L790.2 264L792.9 268L800 272.8L812 276L824 276.2L840 273.1L854.1 268L868.8 260L887.2 248L892.2 244L895.5 240L896.2 236L893.8 232L887.9 228L880 225.2L856 221.6L848 221.7ZM1004 443.6L972 447L948 453.1L936 458.2L916 468.9L864 492.6L795.6 512L784.6 516L776.8 520L771.6 524L768.3 528L766.3 532L764.4 540L764.5 548L766.5 560L770.1 576L773.2 584L779.4 592L784.7 596L792.6 600L806.4 604L816 605.3L828 605.3L856 600.7L868.1 596L888.5 584L895.8 576L908.7 556L916 549.4L924 545.1L936 541.6L960 538L988 530.4L1024 526.3L1092 510.4L1108 505.1L1118.2 500L1124 495.2L1128.9 488L1130.4 480L1129.8 476L1128 471.7L1121.7 464L1112 457.3L1084 445.4L1072 443.1L1044 445.4L1016 443.3ZM1116 367.9L1108 369.2L1100 374.7L1095.6 380L1094 384L1093.8 388L1095 392L1098.1 396L1104 399.3L1108 400.2L1116 399.2L1121.4 396L1125 392L1127.7 384L1127.4 380L1124 372.6L1120 369.2Z" fill="#0044ff" fill-rule="evenodd"/>
<path d="M105.3 144L124 141.6L152 142.3L184 148.9L204 154.4L216 156.2L240 156.7L276 154.3L296 156.5L320 162.2L384 181.5L440 203.4L464 210.7L500 224.5L524 232.2L536 234.5L552 235.5L592 233.1L608 233.2L624 234.5L636 236.7L656.8 244L678.6 256L684 260L691.4 268L700 282.9L704.2 288L709.5 292L718 296L736 301.2L784 306.3L820 305.5L836 306.6L848 310L864 318.8L872 321L876 320.4L880 317.9L888 308.9L892 305.8L896 304.9L900 306L905.7 312L912 325.4L916 330.8L924 336.7L940 345.6L951.6 356L956.3 364L957.3 368L956.3 376L950.7 384L904.8 428L852 464.5L835.8 472L776 487.1L760 492.5L744 501.3L736.5 508L732 513.5L725.7 524L720.9 536L716.5 564L713.3 576L708 587.5L695.3 608L692.8 616L693.1 620L695.1 624L699.8 628L708 630.8L740 634.8L764 636.4L788 636.8L808 635.1L832 630.4L860 623.4L884 622.2L896 617.6L904 617.9L920 623.8L932 625.1L948 623.1L968 618L983 612L998.9 604L1008 598.5L1016 592.2L1022.1 584L1026.4 568L1029.9 560L1037.1 552L1049.2 544L1058.4 540L1092 529.1L1120 525L1132 521.8L1156 510.4L1176 502.8L1184 498L1188 493.3L1190 488L1190.4 484L1189.2 476L1184 463.1L1168 440L1166.7 432L1167.6 428L1174.9 412L1177 404L1178.1 392L1178.1 360L1180.5 344L1184.3 332L1195.8 308L1202.6 280L1208.4 264L1212.8 256L1220 246.6L1228 239.1L1236 233.5L1256 223.7L1274.6 212L1284 207.4L1316 195.5L1336 190.1L1336 660L-8 660L-8 199.6L8 197.4L48 196.1L64.4 192L71.2 188L74.6 184L76.5 180L80.6 164L84.6 156L88.2 152L94.3 148Z" fill="#0080ff" fill-rule="evenodd"/>
<path d="M159 188L168 186.9L180 188.5L191.9 192L204 197.5L231.1 204L258.6 216L268 218.4L284 219L340 215.2L412 220.7L424 223.2L476 240.9L508 249.5L528 253L584 259.5L600 262.3L616 267.6L624 272.7L629.1 280L632.9 296L635.1 300L639 304L648 308.8L659.8 312L696 318.7L708 322.8L724 330.3L732 332.8L740 332.8L752 330.1L760 329.5L768 330.7L784 335.7L788 335.9L812 327.3L820 326.8L828 328.3L836 331.5L864 347L883 352L888 354.2L892 358.3L894.6 364L894.7 372L891 380L885 388L874.9 400L862.9 412L840 429.8L829.2 436L820 440L800 445.4L780 447.9L756 448.2L712 445.3L708 445.7L702.5 448L701 452L706.7 468L707.6 480L703.4 496L695 512L672 541.9L652 563L640 572.8L628 580.5L620 584.2L612 586.4L604 587L596 586L588 583.1L572 574.6L560 569.6L548 566.4L536 564.7L500 561.1L472 561.3L448 558.7L424 561.8L412 561.9L388 556.4L380 555.3L372 555.9L356 558.9L348 558.9L340 557.3L320 550.3L308 548.6L296 550.2L276 555.3L264 555.9L256 553.7L246.4 548L240 545.8L232 545.3L212 548L200 548.4L188 546.6L172 541.9L156 542.9L148 542.5L124 535L112 532.3L96 531.2L64 531.7L-8 517.2L-8 234.1L24 227.3L44 225.1L68 224.7L100 228.9L132 228.4L160 231.2L183.4 228L192.1 224L195.5 220L195.5 216L191.9 212L182.9 208L164 202.8L158 200L156 198.1L154.5 196L154.5 192ZM1304 232.2L1336 225.8L1336 509.8L1300.8 492L1288 483.1L1276.3 472L1256 446.7L1246 436L1242.2 428L1237.6 404L1227.1 368L1224.3 352L1225.1 336L1231.5 292L1235.4 280L1242.4 268L1248 262L1256 255.6L1288 237.9ZM47.9 556L56 553.8L64 553.4L72 554.8L96 562.1L112 563.4L128 562L152 555.2L160 554.6L180 558.5L204 568.7L212 569.4L240 567.6L252 568.9L260 573L280 589.7L296 597.5L312 600.8L336 600.5L352 602.9L384 611.2L436 627.4L445.2 632L455.2 640L466.1 652L471.3 660L-8 660L-8 577.6ZM1320 591.4L1336 578.7L1336 660L1020.7 660L1029 652L1052 636.5L1096.4 616L1101.3 612L1112 599L1116 595.9L1120 594.7L1128 595.5L1152 604.2L1168 607.3L1224 605.3L1272 605.2L1292 602.6L1308 598Z" fill="#00b8ff" fill-rule="evenodd"/>
<path d="M40.6 240L56 238.9L72 239.3L124 244.9L152 249.3L168 250.9L240 248L256 248.2L336 261.6L372 264.8L396 268.5L408 267.8L424 261.4L436 260.1L528 271.9L548 276.2L557.9 280L565.1 284L574.3 292L588.2 312L595.7 320L604 325.2L612 328.2L628 331.5L688 338.4L728 350.9L736 351.5L752 348.9L760 349.2L766.8 352L776 357.3L784 360.1L788 360.4L796 358.4L805.7 352L812 349.1L820 349.1L826.2 352L830.7 356L833.4 360L834.6 364L834.6 368L832 373.7L824 381L812 388.2L794.2 396L772 402.8L720 411.8L700 416.9L681.3 424L659.5 436L655.1 440L652.7 444L651.8 448L653.3 456L660 472L661.6 480L661 488L657.1 496L649.2 504L636.5 512L616 521L600 525.8L556 533.8L532 535L480 532.7L472 531.1L452 523.8L428 521.2L416 521.6L400 524L372 524.8L348 527.6L304 523.4L276 526L268 524.6L248 518.2L240 517.1L232 517.4L208 521.2L200 520.3L180 515.7L148 514.2L96 503L52.8 484L46.5 480L36 471.2L28 466.5L16 462.8L-8 458.6L-8 250.9L24 242.9ZM1323.7 256L1336 252.3L1336 448.2L1331.2 444L1328 438.8L1321.3 412L1313.8 396L1302.3 380L1279.1 352L1271.5 340L1265.2 324L1263.5 312L1264 304L1265.9 296L1269.7 288L1276.3 280L1284 274.1L1292 269.6ZM80.5 592L96 588.7L128 591.2L156 588.3L184 594.4L208 596.5L239.7 608L248.4 612L254.5 616L259.2 620L264 627.2L265.1 632L264.8 636L264 638.1L260 639.8L248 634.7L244 634.2L228 636.7L208 638L180 642.2L152 641.4L128 642.4L116 641.5L80 636.1L60 629.4L53.7 624L52.2 620L52.3 616L53.8 612L59.7 604L70.8 596Z" fill="#09f0ee" fill-rule="evenodd"/>
<path d="M39.5 252L52 250.5L68 250.4L112 254.1L147.6 260L164 261.7L192 261.5L220 263.7L256 263.9L288 270.3L312 273.5L336 278.8L372 283.2L400 290.3L408 289.6L424 282.9L436 280.6L496 285L520 288.8L540 294.7L552 301.6L560 308.5L567 316L585.5 340L596 347.7L604 350.7L616 353.1L640 353.9L652 355.4L696 366.4L708.9 372L712.8 376L713.4 380L711.4 384L706.5 388L691.9 396L642.5 420L617.3 436L613.1 440L608.8 448L607.8 456L607.8 472L605.5 480L603 484L599.1 488L592 492.7L584 496.3L571.5 500L544 504L532 503L516 497.9L492 486.4L480 483.2L472 483.7L460 487.3L452 488.5L440 487.3L432 487.5L396.6 496L376 502L348 502.4L320 506.5L312 506.3L292 503.9L268 504.8L240 501.9L212 501.9L188 498L160 496.3L112 482L102.1 476L82.4 460L63.6 448L48 439.7L36 435.3L-8 423.2L-8 267.3L16 258.1ZM1328 274.3L1336 271.9L1336 374.2L1328 367.9L1316 356L1302.3 340L1297.4 332L1293.9 324L1292.2 312L1293.7 304L1295.4 300L1300 293.5L1305.5 288L1320 278.1Z" fill="#36ffc1" fill-rule="evenodd"/>
<path d="M35.6 264L44 262.1L56 260.8L96 262.1L112 263.4L152 269.6L188 269.9L220 274.3L252 274.4L280 280.8L308 284.7L332 291.5L364 294.9L400 304.1L408 303.8L424 295.7L436 293L484 296.5L504 299.7L528 307L537.9 312L548 319.2L556.4 328L568 349.4L576 356.9L584 361.2L596 365.8L635 376L640.8 380L642.4 384L641.6 388L634.8 396L619.5 408L588 431.3L564 445.7L544 451.2L532 456L516 459.2L500 464.2L476 467.7L456 474.9L452 475.5L436 474L432 474.5L412 480.9L376 488.3L344 489.7L316 493.4L292 491.4L264 491.9L236 490.6L168 481.8L124 466.5L116 461.8L100 450L76 440.7L52 427.4L16 409.3L-8 395L-8 284.6L13.1 272ZM1326.6 296L1336 291.1L1336 345.5L1328 339.9L1321.8 332L1318.2 324L1316.8 316L1318.1 308L1320 303.7Z" fill="#63ff94" fill-rule="evenodd"/>
<path d="M51.2 272L104 271.6L148 276.8L188 276.9L208 281.7L216 282.7L236 281.8L248 282.3L276 289.5L304 293.3L328 301.1L356 303.5L384 311.3L404 314L412 313.6L428 305.8L436 304.3L472 307.1L492 310.3L512 316.8L524 322.9L532 328.2L540.4 336L553.1 356L560 363.5L568 369.2L589 380L593.7 384L596.1 388L596.8 392L595.9 396L591 404L583.4 412L563.9 428L556 432.9L544 436.3L528 444.2L516 446.8L500 453.6L476 455.9L456 463.6L452 464.2L440 463L432 463.3L412 470.5L380 476.2L316 481.4L240 479.5L216 476.2L176 468.9L152 461.6L108 441.8L84 434.7L76 430.9L41.9 408L22.2 392L7 376L-7.6 356L-8 311.2L7.5 292L16.9 284L24.3 280L34.6 276Z" fill="#94ff63" fill-rule="evenodd"/>
<path d="M57.5 284L104 280.6L148 283.3L184 282.8L212 289.6L236 288.6L248 289.6L272 296.8L300 300.5L324 308.8L352 311L380 318.8L412 322.4L420 321.1L432 317.1L440 316.7L456 318L472 320.7L484 324L493.9 328L516 340.6L524 346.2L557.1 380L562 388L562.8 396L558.4 408L552.8 416L548.3 420L528 432.2L524 434.3L512 437.8L500 444.5L492 446L476 445.9L460 451.4L452 453.1L432 452.5L408 460.5L388 464.2L320 469.3L264 468.8L220 464.6L168 454.7L156 451.4L130.1 440L88.6 428L80.7 424L53.1 400L42.6 388L30.7 372L21.5 356L16.9 344L14.5 328L16 316L21.3 304L28.3 296L34 292L42.3 288Z" fill="#c1ff36" fill-rule="evenodd"/>
<path d="M91.6 292L112 289.5L184 288.9L212 296.3L236 295.3L244 296L272 304.6L296 307.5L320 316L352 318.6L376 325.3L396 326.3L416 330.5L436 330.1L452 332.6L463.6 336L472.5 340L508 359.4L516 364.8L527.6 376L533.3 384L536.1 392L535.9 400L533 408L530.6 412L523.6 420L517.5 424L508 427.9L496 434.7L492 435.7L476 435.9L452 441.4L432 441.8L404 450.1L384 453.6L324 457L268 456.4L220 452.2L160 443.1L136 432.6L104 424.6L92 419.3L84 412L68.7 392L61.2 380L52.8 364L46.7 348L44.2 336L44.3 324L48 312.9L51.6 308L56 304.1L63.3 300L75 296Z" fill="#eeff09" fill-rule="evenodd"/>
<path d="M128 298.3L180 295.6L188 296.5L208 302.9L240 303.2L264 312.2L272 314L292 316.4L308 322.9L316 325.1L348 326.2L372 332.7L396 333.3L405.8 336L425.8 344L431.9 348L438.8 356L442.1 364L444.1 372L448 380.2L452.6 384L472 389.5L484 395.9L488.1 400L489.7 404L489 408L486.1 412L480 416L470.1 420L456 424.7L432 429.4L400 439.5L380 442.5L344 443.5L300 441.9L268 441.8L228 440L192 435.5L168 434.8L160 433.4L140 424.5L111.5 416L105.6 412L99.8 404L87.6 380L81.3 364L78.1 352L76.5 340L77.4 328L80.1 320L86.2 312L91.2 308L104 302.3Z" fill="#ffcc00" fill-rule="evenodd"/>
<path d="M167.8 308L184 306.3L208 312.8L228 312.7L236 314.2L240.4 316L246.1 320L259.1 332L262.9 336L264.7 340L263.7 344L256 353L251.4 360L249.5 368L250.1 372L251.6 376L256 382.3L275.7 404L277.2 408L275.9 412L269.8 416L264 417.6L232 422.1L220 422.7L192 421.9L172 422.7L164 421.8L158 420L132.5 408L126.4 404L120.5 396L118.1 388L117.8 380L120.8 372L128 365.8L136 363.1L156 358.9L161.7 356L164.7 352L164.7 348L162.5 344L156 337.7L143.3 328L140.5 324L142.3 320L147.3 316L155 312ZM330.5 340L344 337.7L352 338.9L358.9 344L360.4 348L359.8 352L356 357.2L352 359.3L344 359.3L336 357.1L328 352.5L325 348L325.3 344ZM350.5 400L360 397.2L372 396.1L404 397.9L412 400.5L415 404L416 408L414.9 412L412 416L406.6 420L397.4 424L384 427.1L372 427.8L352 427L338.2 424L331.3 420L329.1 416L330.1 412L332 409.9L340 404.5Z" fill="#ff9400" fill-rule="evenodd"/>
<path d="M168.8 388L184 385.4L192 386.2L196 388.4L198.9 392L200 396L199.2 400L195.5 404L188 406.4L180 407.2L172 406.3L167.1 404L164 400.8L162.3 396L163.5 392Z" fill="#ff6000" fill-rule="evenodd"/>
<use href="#coast"/>
</g><rect x="0" y="0" width="1330.9" height="655.6" fill="none" stroke="#000" stroke-width="3.3"/></g>
<rect x="78.7" y="831.7" width="74.5" height="65.3" fill="#00009f"/>
<rect x="152.6" y="831.7" width="74.5" height="65.3" fill="#0000df"/>
<rect x="226.6" y="831.7" width="74.5" height="65.3" fill="#000cff"/>
<rect x="300.5" y="831.7" width="74.5" height="65.3" fill="#0044ff"/>
<rect x="374.5" y="831.7" width="74.5" height="65.3" fill="#0080ff"/>
<rect x="448.4" y="831.7" width="74.5" height="65.3" fill="#00b8ff"/>
<rect x="522.3" y="831.7" width="74.5" height="65.3" fill="#09f0ee"/>
<rect x="596.3" y="831.7" width="74.5" height="65.3" fill="#36ffc1"/>
<rect x="670.2" y="831.7" width="74.5" height="65.3" fill="#63ff94"/>
<rect x="744.1" y="831.7" width="74.5" height="65.3" fill="#94ff63"/>
<rect x="818.1" y="831.7" width="74.5" height="65.3" fill="#c1ff36"/>
<rect x="892" y="831.7" width="74.5" height="65.3" fill="#eeff09"/>
<rect x="966" y="831.7" width="74.5" height="65.3" fill="#ffcc00"/>
<rect x="1039.9" y="831.7" width="74.5" height="65.3" fill="#ff9400"/>
<rect x="1113.8" y="831.7" width="74.5" height="65.3" fill="#ff6000"/>
<rect x="1187.8" y="831.7" width="74.5" height="65.3" fill="#ff2d00"/>
<rect x="1261.7" y="831.7" width="74.5" height="65.3" fill="#df0000"/>
<rect x="1335.7" y="831.7" width="73.9" height="65.3" fill="#9f0000"/>
<rect x="78.7" y="831.7" width="1330.9" height="65.3" fill="none" stroke="#000" stroke-width="3.3"/>
<line x1="78.7" y1="897" x2="78.7" y2="913.2" stroke="#000" stroke-width="3.3"/>
<text x="78.7" y="959.7" font-size="44" text-anchor="middle" textLength="26" lengthAdjust="spacingAndGlyphs">0</text>
<line x1="226.6" y1="897" x2="226.6" y2="913.2" stroke="#000" stroke-width="3.3"/>
<text x="226.6" y="959.7" font-size="44" text-anchor="middle" textLength="26" lengthAdjust="spacingAndGlyphs">5</text>
<line x1="374.5" y1="897" x2="374.5" y2="913.2" stroke="#000" stroke-width="3.3"/>
<text x="374.5" y="959.7" font-size="44" text-anchor="middle" textLength="52.5" lengthAdjust="spacingAndGlyphs">10</text>
<line x1="522.3" y1="897" x2="522.3" y2="913.2" stroke="#000" stroke-width="3.3"/>
<text x="522.3" y="959.7" font-size="44" text-anchor="middle" textLength="52.5" lengthAdjust="spacingAndGlyphs">15</text>
<line x1="670.2" y1="897" x2="670.2" y2="913.2" stroke="#000" stroke-width="3.3"/>
<text x="670.2" y="959.7" font-size="44" text-anchor="middle" textLength="52.5" lengthAdjust="spacingAndGlyphs">20</text>
<line x1="818.1" y1="897" x2="818.1" y2="913.2" stroke="#000" stroke-width="3.3"/>
<text x="818.1" y="959.7" font-size="44" text-anchor="middle" textLength="52.5" lengthAdjust="spacingAndGlyphs">25</text>
<line x1="966" y1="897" x2="966" y2="913.2" stroke="#000" stroke-width="3.3"/>
<text x="966" y="959.7" font-size="44" text-anchor="middle" textLength="52.5" lengthAdjust="spacingAndGlyphs">30</text>
<line x1="1113.8" y1="897" x2="1113.8" y2="913.2" stroke="#000" stroke-width="3.3"/>
<text x="1113.8" y="959.7" font-size="44" text-anchor="middle" textLength="52.5" lengthAdjust="spacingAndGlyphs">35</text>
<line x1="1261.7" y1="897" x2="1261.7" y2="913.2" stroke="#000" stroke-width="3.3"/>
<text x="1261.7" y="959.7" font-size="44" text-anchor="middle" textLength="52.5" lengthAdjust="spacingAndGlyphs">40</text>
<line x1="1409.6" y1="897" x2="1409.6" y2="913.2" stroke="#000" stroke-width="3.3"/>
<text x="1409.6" y="959.7" font-size="44" text-anchor="middle" textLength="52.5" lengthAdjust="spacingAndGlyphs">45</text>
<text x="744.1" y="1092.8" font-size="52.5" text-anchor="middle" textLength="1224.7" lengthAdjust="spacingAndGlyphs" xml:space="preserve">Ionosphere  (h=450.0 km), 2009-12-21 21:00 UT</text>
<g transform="translate(78.7 1117.4)"><g clip-path="url(#mc)">
<rect x="-8" y="-8" width="1346.9" height="671.6" fill="#00009f"/>
<path d="M52.4 20L96 18.6L176 19.6L248 24.8L308 31.1L332 34.7L356 39.6L380.6 48L400 58.7L415.7 72L436 95L444 100L480 114.1L548 133.6L564.9 140L570.7 144L573.2 148L573.4 152L572 155.6L568 159.8L556 165.3L532 170.7L524 173.6L504 184.6L496 190.9L488.5 200L485.2 208L485.3 216L489.8 224L500 232.2L516 241.1L536 247.4L556 250.4L572 250.9L584 249.2L608 243.1L620 242L636.1 244L644 246.9L648 250L650.5 256L649.5 260L646.5 264L644 265.7L636 269.1L612 272.6L604 275.1L600 277.2L592 283.7L585.7 292L583.7 296L581.8 304L581.8 312L583.6 320L588.1 328L592.4 332L600 336.2L608 338.2L616 338.9L636 337.9L692 328.3L720 325.5L736 321.4L748 319.8L772 320.3L796 318L812 319.5L840 325.3L860 330.8L868 334.1L888 344.5L928 359L940 361.4L960 361.6L969.7 364L973.5 368L974 372L972 376L964 380.4L940 385.2L936 387.8L933.4 392L932.9 396L934.1 400L937.4 404L944.8 408L960 411.1L988 409.8L1012 412.5L1048 414L1080 419.5L1100 418.1L1128 411.9L1137 408L1143.2 404L1151.1 396L1157.3 384L1166.8 352L1183.6 316L1194.7 280L1201.6 264L1214.1 244L1236 222.7L1244.7 212L1255.9 196L1266.8 176L1274.4 156L1278.7 128L1283 116L1288.2 108L1295.2 100L1328 70.4L1336 64.8L1336 660L-8 660L-8 39L13.5 28L23.8 24L36 21.5ZM804 414.3L771 420L757.9 424L751.3 428L751.4 432L759.7 436L768 437.4L780 437.7L799.9 436L817.6 432L827.2 428L833.3 424L833.9 420L822.1 416L812 414.5ZM912 90.1L960 87.1L1048 87.9L1100 93.2L1159.1 96L1180 97.7L1195.3 100L1205 104L1205.2 108L1200.5 112L1193.1 116L1180 120.7L1132 129.5L1100 128.2L1088 129.4L1072 134.2L1044 145.4L1032 148.4L1024 149.1L1008 147.3L984 139L968 136L936 135.6L904 131.8L876 131.3L864 133.1L844 140.3L832 141.2L820 139L796 130.6L784 127.9L776 127.5L756 132L748 132.5L744 131.7L739.1 128L738.7 124L740 121.6L747.1 116L772 109.3L805.7 96L820 92.3L832 90.9L872 89Z" fill="#0000df" fill-rule="evenodd"/>
<path d="M153.3 52L184 48.8L208 48.7L240 52.7L264 54.6L276 56.8L292 61.2L304 66L316 73.1L357.4 108L392 130.4L408 138.2L440 147.1L452 152.6L460 159.6L462.8 164L465.4 172L465.4 180L463.8 188L460.8 196L445.7 224L444.1 232L446.2 236L456 240.9L476 253.7L524 276.8L540 287.1L545 292L550.7 300L564 329.2L570.8 340L580 348.8L592 356L600 358.7L612 360.6L652 360.1L664 358.7L688 352.5L716 352.2L744 346.5L768 346.6L792 345.1L808 347.2L824.7 352L832 356L836.3 360L838.6 364L839.2 368L838 372L836 374.7L832 378L824 381.3L800 385.1L772 391.6L744 390.8L732 392L720 395.6L696 405.6L672 410.7L660 414.7L651.6 420L648.1 424L646.6 428L646.5 432L648.1 436L651.7 440L657.7 444L668 448L684 452.3L712 462.5L728 465.8L760 470.1L772 469.7L792 467L820 466.3L844 462.2L868 460.9L888 458.2L904 457.7L912 458.6L916.5 460L921.8 464L924.1 468L924.3 472L920 479.1L906 492L903.6 496L907.6 500L922.9 504L932 505.4L940 505.4L960 503.4L988 504.9L996 503.9L1016 499L1052 497.8L1068 494.7L1084 490.2L1096 485.4L1104.8 480L1112 472.4L1122.8 456L1133.5 444L1140 439.2L1156 431.6L1168 423.4L1180 412.8L1186.5 404L1193.2 388L1200.4 360L1213.2 332L1219.8 296L1223.3 284L1228 273.9L1234.5 264L1244 253.8L1260 240.3L1291.7 220L1316.9 192L1328 182.9L1336 178.4L1336 660L-8 660L-8 180.6L8 188.6L20 191.1L32 191.9L40 191.2L48 188.7L52.1 184L52.3 180L47.9 172L40 165.5L24 158.2L4 153.4L1.1 152L0.2 148L3.2 140L7.8 132L25.5 108L41.8 92L58.4 80L76 70.9L95.3 64L112 59.9ZM384 224L376 226.5L367.1 232L359.7 240L356.7 248L357.8 256L362.4 264L368 269.7L376 274.3L382.9 276L388 276.2L396 274.3L401.2 272L424.9 256L433.3 248L435.5 244L436.2 240L433.4 236L423.6 232L400 224.3L392 223.3Z" fill="#000cff" fill-rule="evenodd"/>
<path d="M212.4 84L220 84L260 89.2L269.5 92L277.6 96L292 107L320 135.2L342.7 152L349 160L349.8 164L348.9 168L345.7 172L328 181.7L324.9 184L321.9 188L320.4 204L318.4 208L316 210.1L312 209.9L309.5 208L300 194.2L296 191.6L288 189.1L276 188.2L268 189.1L260 191.5L252 195.7L243 204L239.2 212L239.2 216L240.5 220L246.2 228L256 236L262.8 240L272.1 244L292 250.5L308.2 260L336 271L357.5 284L368 288.6L384 292L396 292.4L404 291.2L424 283.8L432 282.3L452 283.9L476 284.1L488 286.3L496 289.1L504 293.3L524 306.6L532 313.1L538.4 320L554.3 344L561.5 352L584 370.3L607.8 384L612.4 388L615.1 392L616.4 396L616.3 404L614.2 412L607.9 428L606.4 436L608 443.5L611.1 448L620 453.8L648 465.7L684 477.8L709.5 492L719.5 500L726.6 508L740.8 528L747.6 540L753.1 552L755.5 560L756.4 568L753.6 592L753.8 596L756 602L760 606.3L764 608.8L773 612L784 614L820 616.2L840 615.8L864 612.4L900 604.6L909.4 600L914.1 596L917.2 592L920 584L921.1 568L923.5 560L929.3 552L940 545.2L953.8 540L968 535.9L1000 532.7L1028 525.3L1076 516.1L1116 504.3L1132.1 496L1146.8 484L1162.4 460L1173 448L1183 440L1203.6 428L1219 416L1231.7 404L1243.8 388L1251.3 372L1253.5 360L1251.6 320L1252.4 304L1255.7 292L1262.8 280L1274.6 268L1286 260L1320 242.5L1336 235.5L1336 660L-8 660L-8 224.8L24 222.9L68 222.9L80 224.2L100 228.3L128 227.4L144 229.3L154.4 228L161.3 224L159.5 220L148 214L140 207.4L124 189.3L118.7 180L115.7 172L114.9 164L116 158.3L120.1 152L124 149.4L132 146.5L144 144.9L168 146.3L176 145.8L184 144.1L190.6 140L193.2 136L193.7 132L192.8 128L185.3 112L184.7 104L185.8 100L191.6 92L197.4 88L204 85.5Z" fill="#0044ff" fill-rule="evenodd"/>
<path d="M20.3 240L44 238.7L64 238.9L96 244L120 245.6L148 249.7L216 251.4L228 252.4L280 264L332 283.7L359.7 296L374.9 300L392 302.3L404 302.5L416 300.5L432 295.4L440 295.5L452 297.4L468 296.6L476 297.7L483.8 300L496 306.3L508.9 316L522.5 328L546.2 356L571.7 380L580.5 392L583.1 400L582.3 412L579.6 420L571.5 436L568.8 444L568.6 452L572 460.7L576 465L588 472.8L600 477.9L620 483.9L629.9 488L645.1 496L657.4 504L666.3 512L673 520L684.7 536L691.7 548L695.6 560L695.8 568L692 579.5L684 590.2L676 597L668 601.8L643.1 612L628.2 620L617 628L614.6 632L615.4 636L620 638.8L644.8 644L716 648L728 647.6L752 643.5L764 642.9L836 648.1L860 647.1L928 634.6L992.7 616L1020 606.8L1048 600.4L1054.2 596L1056.3 592L1056.1 584L1052.2 568L1052.8 560L1056.6 552L1064 545.7L1092 533.4L1124 525.7L1156 511.2L1204 494.8L1216.4 488L1248 466.7L1280 439.6L1304 428.1L1324 422.4L1336 417.3L1336 660L-8 660L-8 243.3ZM200 547.8L184.7 552L190.3 556L220 567.2L228 568.5L248 569.2L272 576.4L296 578.7L324 588.5L336 588.9L352 586.1L376 592L408 594.1L424 600L432 601.7L440 600.3L444 597.9L448 593.8L450.8 588L451.3 584L449.9 576L444 566.4L440 562.3L432 556.9L420 553.2L408 554.1L384 562.8L364 567.3L356 567.7L332 559.4L304 557L280 552.5L252 552.7L232 547.5L220 545.8ZM432 487.4L421.6 492L408 502.8L404 504.4L408 507.6L448 505.1L452.6 504L459.9 500L467.2 492L460 489.6L448.6 488ZM480 477.9L476 480.1L471.1 488L472 489.1L480 491.8L488 492.3L492 491.2L494.9 488L493.3 484L488.8 480L484 478.1ZM1326.7 264L1336 260.7L1336 373.4L1312 355.6L1300.5 344L1292 331.5L1288.9 324L1287.2 316L1287 308L1288.6 300L1294.9 288L1307.1 276Z" fill="#0080ff" fill-rule="evenodd"/>
<path d="M27.3 256L52 253.1L68 253.1L120 257.5L152 261.5L228 266.7L264 272.6L280 276.3L356 303.4L376 308.4L392 310.5L408 311.2L436 306.5L452 309.1L464 308.3L472 309.4L478.6 312L485.2 316L504.5 332L516.3 344L546.7 380L552 388L555.2 396L556.2 404L554.2 416L548.3 428L542.1 436L533 444L516 455.3L508 457.8L504 458.1L484 456.4L476 457L468.9 460L458.8 472L452 475.5L448 475.7L436 472.7L432 472.5L412 481.4L388 486.6L374 492L368.3 496L364.8 500L361.2 508L358 520L356 523.2L352 526.2L346.4 528L312 530.2L264 530.7L240 529.9L192 525.4L144 526.9L132 525.5L96 516.1L64 512.1L56 510.2L48 506.6L40 500.4L33.4 492L29.5 484L27.3 476L26.4 464L30.3 436L30.6 424L27.2 404L20.9 388L12 372.1L0 356.4L-8 349.4L-8 265.6L8 259.9ZM1331 296L1336 293.6L1336 338.9L1330.7 336L1324 328.7L1321.6 324L1319.8 316L1320 312L1323 304L1326.1 300ZM30.4 576L40 573.5L48 572.9L76 574.2L108 573.6L132 574.9L144 576.7L172 587L184 589L204 590L232 598.5L262.7 604L293.1 616L300 620L304.4 624L306.9 628L307.9 632L306.7 636L304 638.7L292 644.3L280 647.1L256 649.8L232 658L224 659.5L212 659L192 654.7L180 653.8L148 655.8L140 657.8L135.5 660L-8 660L-8 603.9L15.3 584ZM1308 608L1320 606L1336 606.9L1336 652L1319.8 660L1291.2 660L1280 654.6L1268 652.2L1256 654.7L1246.5 660L1214.1 660L1208 655.7L1204 654.6L1200 655.4L1195.4 660L1154.2 660L1156.5 648L1159.8 640L1162.7 636L1172 628.9L1196 615.8L1204 613.7L1212 613.7L1236 620.3L1244 620.8L1264 615.3L1288 613.2Z" fill="#00b8ff" fill-rule="evenodd"/>
<path d="M75.2 268L116 268.5L232 278.8L264 284.1L288 289.5L356 311.9L372 315.8L408 319.6L436 318.4L448 321L460 321.9L468 323.7L476 328.6L492.5 344L508 361.1L522.5 380L529.1 392L531.7 400L532.3 408L530.7 416L525 428L519.5 436L515.7 440L509.1 444L504 445.2L492 445.4L468 450.7L464 453.1L456 462.7L452 465.9L448 466.6L444 465.5L436 460.8L432 460.1L428 461.5L412 472.1L364 485.8L352.7 492L340 501.4L328 506.4L284 513.7L240 514.6L224 513.6L196 509.9L168 508L152 504.9L136 500.4L124 495.5L112 488.7L104 482.6L97.9 476L84 454.7L66.6 432L49.1 396L15.9 340L8.8 324L7.3 312L8.8 304L12 297.4L16 292L24 284.2L36 276.8L48 272.2L60 269.4Z" fill="#09f0ee" fill-rule="evenodd"/>
<path d="M83.3 284L104 281L140 281.3L184 284L220 288L284 299.1L364 322.9L428 331.2L445.3 336L456 340.6L465.6 348L480 363.5L496.9 384L504 394.5L508 404L509.2 412L508.3 420L506.6 424L503.3 428L480.7 440L464 444.5L456.7 448L452 451.4L448 452.1L440 446.7L436 445.9L432 446.7L428 448.8L414.9 460L408 464.4L380 473.4L356 478.8L336 488.7L328 491.3L288 497.5L240 498.1L224 496.8L192.6 492L168 486.1L148 478.2L132 468.9L120 458.8L100 438.7L72.4 400L50.1 356L45.8 344L43.9 332L44.5 320L48.5 308L53.9 300L63.1 292L70.7 288Z" fill="#36ffc1" fill-rule="evenodd"/>
<path d="M122.8 296L156 292.5L180 293.5L205.5 296L244 306.5L280 311L304 318.4L331.8 324L352 331.2L364 333.6L385.2 336L412 343.8L420.2 348L425.1 352L436 367.6L440 371.6L460 383.9L476.8 400L482.5 408L483.9 412L484.3 416L482.5 424L480.3 428L476.5 432L472 434.3L456 436.9L440 435.1L432 436.4L424 441.1L408 453.6L400 457.4L379.2 464L352 468.7L332 474.6L320 477L292 480.3L248 480.2L204 475.1L188 471.3L140 449.8L128 443.3L116 434.8L108 427.7L101.4 420L91.4 404L85.6 392L81.7 376L80.7 356L82.8 336L86.6 320L90.7 312L98.5 304L108 299.2Z" fill="#63ff94" fill-rule="evenodd"/>
<path d="M170.7 312L184 310.6L197.9 312L206.7 316L210 320L210.3 324L205.2 328L200 328.9L192 328.4L180 325.9L174.5 324L168.4 320L166.6 316ZM147.4 368L172 369.5L192 366.2L200 366.1L208 368.5L224 376.2L232 377.5L252 377.7L280 384.4L304 381.1L312 381.2L324 383.2L332 382.5L337.5 380L352 368.1L356 366.6L360 366.3L364.6 368L373 376L378.6 380L404 386.2L430.6 400L443.7 408L447.8 412L449 416L432 422.5L428 424.9L412 438.7L404 443.7L396 446.4L360 453.1L308 461.6L296 462.5L252 462.4L204 457.8L192 455.1L172 446.2L132 430.7L120 422.5L110.8 412L106.9 404L104.8 396L104.8 388L108.2 380L112.5 376L120 372.6L136 369.3Z" fill="#94ff63" fill-rule="evenodd"/>
<path d="M140.4 392L148 389.8L156 388.9L196 390.5L204 391.8L220 397.9L228 399.9L256 401.1L280 407.8L308 408.3L332 413.9L340 414.1L360 410.6L381.4 412L392 414.5L394.9 416L397.5 420L396 424.4L388.3 428L368 429L336 433.9L312.5 440L304 441.3L264 443.5L236 441.5L204 440.5L196 439.1L176 431.6L152 424.9L142.3 420L136.9 416L132 409.8L130.2 404L131 400L133.9 396Z" fill="#c1ff36" fill-rule="evenodd"/>
<use href="#coast"/>
</g><rect x="0" y="0" width="1330.9" height="655.6" fill="none" stroke="#000" stroke-width="3.3"/></g>
<rect x="78.7" y="1816.5" width="74.5" height="65.3" fill="#00009f"/>
<rect x="152.6" y="1816.5" width="74.5" height="65.3" fill="#0000df"/>
<rect x="226.6" y="1816.5" width="74.5" height="65.3" fill="#000cff"/>
<rect x="300.5" y="1816.5" width="74.5" height="65.3" fill="#0044ff"/>
<rect x="374.5" y="1816.5" width="74.5" height="65.3" fill="#0080ff"/>
<rect x="448.4" y="1816.5" width="74.5" height="65.3" fill="#00b8ff"/>
<rect x="522.3" y="1816.5" width="74.5" height="65.3" fill="#09f0ee"/>
<rect x="596.3" y="1816.5" width="74.5" height="65.3" fill="#36ffc1"/>
<rect x="670.2" y="1816.5" width="74.5" height="65.3" fill="#63ff94"/>
<rect x="744.1" y="1816.5" width="74.5" height="65.3" fill="#94ff63"/>
<rect x="818.1" y="1816.5" width="74.5" height="65.3" fill="#c1ff36"/>
<rect x="892" y="1816.5" width="74.5" height="65.3" fill="#eeff09"/>
<rect x="966" y="1816.5" width="74.5" height="65.3" fill="#ffcc00"/>
<rect x="1039.9" y="1816.5" width="74.5" height="65.3" fill="#ff9400"/>
<rect x="1113.8" y="1816.5" width="74.5" height="65.3" fill="#ff6000"/>
<rect x="1187.8" y="1816.5" width="74.5" height="65.3" fill="#ff2d00"/>
<rect x="1261.7" y="1816.5" width="74.5" height="65.3" fill="#df0000"/>
<rect x="1335.7" y="1816.5" width="73.9" height="65.3" fill="#9f0000"/>
<rect x="78.7" y="1816.5" width="1330.9" height="65.3" fill="none" stroke="#000" stroke-width="3.3"/>
<line x1="78.7" y1="1881.8" x2="78.7" y2="1898.1" stroke="#000" stroke-width="3.3"/>
<text x="78.7" y="1944.5" font-size="44" text-anchor="middle" textLength="26" lengthAdjust="spacingAndGlyphs">0</text>
<line x1="226.6" y1="1881.8" x2="226.6" y2="1898.1" stroke="#000" stroke-width="3.3"/>
<text x="226.6" y="1944.5" font-size="44" text-anchor="middle" textLength="26" lengthAdjust="spacingAndGlyphs">5</text>
<line x1="374.5" y1="1881.8" x2="374.5" y2="1898.1" stroke="#000" stroke-width="3.3"/>
<text x="374.5" y="1944.5" font-size="44" text-anchor="middle" textLength="52.5" lengthAdjust="spacingAndGlyphs">10</text>
<line x1="522.3" y1="1881.8" x2="522.3" y2="1898.1" stroke="#000" stroke-width="3.3"/>
<text x="522.3" y="1944.5" font-size="44" text-anchor="middle" textLength="52.5" lengthAdjust="spacingAndGlyphs">15</text>
<line x1="670.2" y1="1881.8" x2="670.2" y2="1898.1" stroke="#000" stroke-width="3.3"/>
<text x="670.2" y="1944.5" font-size="44" text-anchor="middle" textLength="52.5" lengthAdjust="spacingAndGlyphs">20</text>
<line x1="818.1" y1="1881.8" x2="818.1" y2="1898.1" stroke="#000" stroke-width="3.3"/>
<text x="818.1" y="1944.5" font-size="44" text-anchor="middle" textLength="52.5" lengthAdjust="spacingAndGlyphs">25</text>
<line x1="966" y1="1881.8" x2="966" y2="1898.1" stroke="#000" stroke-width="3.3"/>
<text x="966" y="1944.5" font-size="44" text-anchor="middle" textLength="52.5" lengthAdjust="spacingAndGlyphs">30</text>
<line x1="1113.8" y1="1881.8" x2="1113.8" y2="1898.1" stroke="#000" stroke-width="3.3"/>
<text x="1113.8" y="1944.5" font-size="44" text-anchor="middle" textLength="52.5" lengthAdjust="spacingAndGlyphs">35</text>
<line x1="1261.7" y1="1881.8" x2="1261.7" y2="1898.1" stroke="#000" stroke-width="3.3"/>
<text x="1261.7" y="1944.5" font-size="44" text-anchor="middle" textLength="52.5" lengthAdjust="spacingAndGlyphs">40</text>
<line x1="1409.6" y1="1881.8" x2="1409.6" y2="1898.1" stroke="#000" stroke-width="3.3"/>
<text x="1409.6" y="1944.5" font-size="44" text-anchor="middle" textLength="52.5" lengthAdjust="spacingAndGlyphs">45</text>
<text x="744.1" y="2077.7" font-size="52.5" text-anchor="middle" textLength="1313.4" lengthAdjust="spacingAndGlyphs" xml:space="preserve">Plasmasphere (h=1500.0 km), 2009-12-21 21:00 UT</text>
<g transform="translate(78.7 2102.3)"><g clip-path="url(#mc)">
<rect x="-8" y="-8" width="1346.9" height="671.6" fill="#0000c8"/>
<path d="M923.9 116L964 116.7L1000 115.6L1028 117L1064 116.7L1132 119.5L1196 123.5L1300 137.7L1320 139.7L1336 139.9L1336 472.3L1256 451.3L1236 448L1216 446.5L1192 448.3L1136 458.9L1108 462.3L1072 463.7L1028 461.8L972 462.7L911.6 468L884.3 472L828 484L796 494.5L761.6 504L716 520.5L656 538.1L612 545.3L532 553.2L516 552.3L484 548L432 543.7L380 541.7L336 537.1L304 534.9L292 532.7L280 527.7L272 520.4L267.3 512L260.5 492L254.9 484L250.2 480L242.8 476L228 472.5L192 471.4L152 474.1L64 477.3L36 476.9L-8 474.6L-8 142.3L80 137.8L112 138.8L136 142.3L156 147.3L172 153L204 166.6L228 173.3L256 175.6L320 174.9L388 170.9L456 164.8L564 151.8L624 146L660 144.1L696 139.2L776 132.7L828 123.4Z" fill="#0040ff" fill-rule="evenodd"/>
<path d="M898.6 152L964 150.1L996 150.5L1032 149.7L1064 150.6L1092 152.6L1164 163.8L1200 173.9L1228.5 180L1264 189.2L1312 199.8L1336 202.6L1336 422.9L1304 418.4L1268 410.7L1236 408.7L1212 404.3L1204 404L1188 406.2L1136 419.8L1104 424.4L1092 425L1000 424.1L976 425.9L916 433.7L852 446.5L748 476.8L708 489.5L648 504.8L616 509.4L568 512.4L532 516.3L516 516.8L492 515.4L432.7 508L416 505.1L404 501.6L390.2 496L376 488.1L339.7 460L320.2 448L304 441.4L288 437.7L272 435.5L256 435.1L168 438.5L136 438.2L36 431.1L-8 425.1L-8 206.4L56 202.7L76 202.7L92 204L104 206.4L116 210.1L164 230.3L180 235.5L212 241.2L236 241.9L251.9 240L264 237.5L324.3 220L356 214.5L392 206.4L460 196L524 189.5L620 184.7L656 180.3L692 178L724 173.8L764 173L784 169.5L820 159.3L832 156.8L864 155.2Z" fill="#00c0ff" fill-rule="evenodd"/>
<path d="M1047.7 196L1056 197L1064 200L1068.3 204L1069.4 208L1067.6 212L1060 216.5L1048 218.2L1036 216.6L1027.4 212L1025.9 208L1027.6 204L1032.3 200L1040 197.1ZM500.6 224L532 222.5L572 223.1L604 226L636 231L684 242.7L732 258.8L772 274.1L800 281.3L816 284.4L836 284.4L856 281.3L892 268L904 264.7L920 263.8L932 265.5L940 270.3L944 275.5L948 283.7L953.2 300L956.6 316L958.4 332L958.3 344L955.9 356L952.2 364L946.1 372L936.8 380L923.7 388L886.5 404L800 433.1L736 449.1L696 461.7L632 476.2L584 481.2L508 485.1L488 483.1L448 472.9L432.5 468L408 457.1L376 438.1L352 425.9L336 420L312 413.5L300 411.5L284 410.4L184 412.9L164 412.4L144 410.7L120 406.8L88 399.3L36 391.5L16 385.9L-8 376.2L-8 269.4L12 264.4L24 262.8L92 261.2L112 262.7L152 268.7L188 272.3L240 280.9L260 282L312 281.4L328 278.1L352 270.5L412 245.7L432 238.7L476 227.8ZM1327 280L1336 276.2L1336 364.8L1332 363.8L1324.5 360L1316.7 352L1310.5 340L1307.6 328L1307.6 316L1312 300L1318.7 288Z" fill="#49ffad" fill-rule="evenodd"/>
<path d="M495.8 260L508 259L524 259.3L584 264.1L600 266.9L624 272.6L649.2 280L713.4 308L764 336.6L812 360.4L820 366L824.8 372L826 376L826 380L824.6 384L821.7 388L816.7 392L804 397.1L788 400.3L740 405L720 408.6L676 421.3L648 434.7L636 438.9L592 449.6L580 451.1L568 451.2L552 449.2L540 445.9L512 435.1L497.3 428L467.6 408L424 370L413.5 364L404 361L392 360.4L364 362.5L336 366.3L316 370.4L264.7 384L248 387L208 391L188 390.9L176 389.5L160 386.2L112 373.3L100 369.1L66.4 352L56.3 344L51.7 336L52 330.8L56 325L64 320.4L72 318L104 312.6L184 303.6L200 304.3L256 312.7L284 318.3L312 325.5L320 326.4L328 325.7L336 323.2L356 312.5L364 309.5L392 305.3L400 302.7L408 298.3L428.8 284L452 272.1L476 264.1Z" fill="#b1ff46" fill-rule="evenodd"/>
<path d="M531 308L552 305.7L588 304.9L616 309.4L628 312.5L637.2 316L644.6 320L655.3 328L665.8 340L669.7 348L671.5 356L671.2 364L668.8 372L664.2 380L652.9 392L640 402.1L628 408.7L604 415.4L588 417.8L572 416.3L559.1 412L539.2 400L520 384L512 375.1L504.2 364L500.2 356L497.6 348L496.9 336L499.2 328L501.6 324L505 320L512 314.8L520 311.1ZM197.9 336L208 335.2L216 335.8L229.7 340L234.8 344L237.1 348L237.3 352L235.7 356L231.5 360L228 361.8L222 364L212 365.5L200 365.1L194.9 364L188 360.9L182.7 356L181 352L181.1 348L183 344L187.5 340Z" fill="#ffd000" fill-rule="evenodd"/>
<use href="#coast"/>
</g><rect x="0" y="0" width="1330.9" height="655.6" fill="none" stroke="#000" stroke-width="3.3"/></g>
<rect x="78.7" y="2801.4" width="167" height="65.3" fill="#0000c8"/>
<rect x="245.1" y="2801.4" width="167" height="65.3" fill="#0040ff"/>
<rect x="411.4" y="2801.4" width="167" height="65.3" fill="#00c0ff"/>
<rect x="577.8" y="2801.4" width="167" height="65.3" fill="#49ffad"/>
<rect x="744.1" y="2801.4" width="167" height="65.3" fill="#b1ff46"/>
<rect x="910.5" y="2801.4" width="167" height="65.3" fill="#ffd000"/>
<rect x="1076.9" y="2801.4" width="167" height="65.3" fill="#ff5900"/>
<rect x="1243.2" y="2801.4" width="166.4" height="65.3" fill="#c40000"/>
<rect x="78.7" y="2801.4" width="1330.9" height="65.3" fill="none" stroke="#000" stroke-width="3.3"/>
<line x1="78.7" y1="2866.7" x2="78.7" y2="2883" stroke="#000" stroke-width="3.3"/>
<text x="78.7" y="2929.4" font-size="44" text-anchor="middle" textLength="65.7" lengthAdjust="spacingAndGlyphs">0.0</text>
<line x1="245.1" y1="2866.7" x2="245.1" y2="2883" stroke="#000" stroke-width="3.3"/>
<text x="245.1" y="2929.4" font-size="44" text-anchor="middle" textLength="65.7" lengthAdjust="spacingAndGlyphs">2.5</text>
<line x1="411.4" y1="2866.7" x2="411.4" y2="2883" stroke="#000" stroke-width="3.3"/>
<text x="411.4" y="2929.4" font-size="44" text-anchor="middle" textLength="65.7" lengthAdjust="spacingAndGlyphs">5.0</text>
<line x1="577.8" y1="2866.7" x2="577.8" y2="2883" stroke="#000" stroke-width="3.3"/>
<text x="577.8" y="2929.4" font-size="44" text-anchor="middle" textLength="65.7" lengthAdjust="spacingAndGlyphs">7.5</text>
<line x1="744.1" y1="2866.7" x2="744.1" y2="2883" stroke="#000" stroke-width="3.3"/>
<text x="744.1" y="2929.4" font-size="44" text-anchor="middle" textLength="92.2" lengthAdjust="spacingAndGlyphs">10.0</text>
<line x1="910.5" y1="2866.7" x2="910.5" y2="2883" stroke="#000" stroke-width="3.3"/>
<text x="910.5" y="2929.4" font-size="44" text-anchor="middle" textLength="92.2" lengthAdjust="spacingAndGlyphs">12.5</text>
<line x1="1076.9" y1="2866.7" x2="1076.9" y2="2883" stroke="#000" stroke-width="3.3"/>
<text x="1076.9" y="2929.4" font-size="44" text-anchor="middle" textLength="92.2" lengthAdjust="spacingAndGlyphs">15.0</text>
<line x1="1243.2" y1="2866.7" x2="1243.2" y2="2883" stroke="#000" stroke-width="3.3"/>
<text x="1243.2" y="2929.4" font-size="44" text-anchor="middle" textLength="92.2" lengthAdjust="spacingAndGlyphs">17.5</text>
<line x1="1409.6" y1="2866.7" x2="1409.6" y2="2883" stroke="#000" stroke-width="3.3"/>
<text x="1409.6" y="2929.4" font-size="44" text-anchor="middle" textLength="92.2" lengthAdjust="spacingAndGlyphs">20.0</text>
</svg></body></html>
